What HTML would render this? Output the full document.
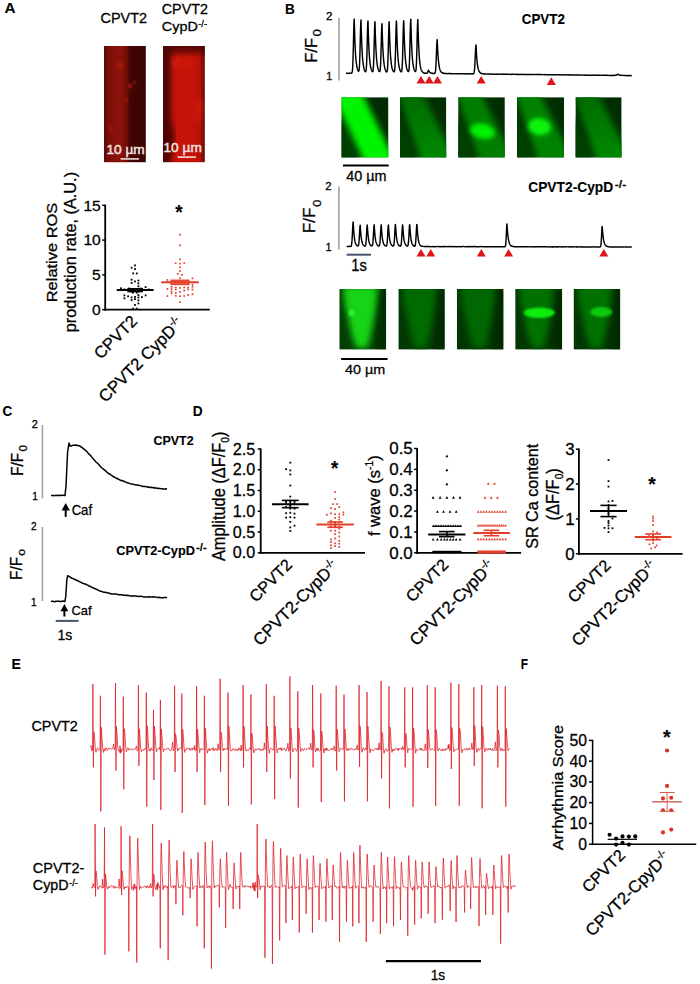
<!DOCTYPE html>
<html><head><meta charset="utf-8"><style>
html,body{margin:0;padding:0;background:#fff;}
svg{display:block;}
text{font-family:"Liberation Sans", sans-serif;}
</style></head><body>
<svg width="700" height="984" viewBox="0 0 700 984">
<rect width="700" height="984" fill="#fff"/>
<text stroke="#000" stroke-width="0.12" x="4.44" y="13.40" font-size="14.43" font-weight="bold" fill="#000" textLength="11.01" lengthAdjust="spacingAndGlyphs">A</text>
<text stroke="#000" stroke-width="0.12" x="285.02" y="13.60" font-size="14.43" font-weight="bold" fill="#000" textLength="9.78" lengthAdjust="spacingAndGlyphs">B</text>
<text stroke="#000" stroke-width="0.12" x="2.62" y="416.00" font-size="15.14" font-weight="bold" fill="#000" textLength="9.78" lengthAdjust="spacingAndGlyphs">C</text>
<text stroke="#000" stroke-width="0.12" x="192.72" y="415.60" font-size="14.86" font-weight="bold" fill="#000" textLength="9.89" lengthAdjust="spacingAndGlyphs">D</text>
<text stroke="#000" stroke-width="0.12" x="11.50" y="669.20" font-size="14.14" font-weight="bold" fill="#000" textLength="9.34" lengthAdjust="spacingAndGlyphs">E</text>
<text stroke="#000" stroke-width="0.12" x="520.71" y="669.30" font-size="14.86" font-weight="bold" fill="#000" textLength="7.22" lengthAdjust="spacingAndGlyphs">F</text>
<text stroke="#000" stroke-width="0.28" x="100.48" y="22.50" font-size="14.29" fill="#000" textLength="46.56" lengthAdjust="spacingAndGlyphs">CPVT2</text>
<text stroke="#000" stroke-width="0.28" x="161.78" y="14.00" font-size="14.29" fill="#000" textLength="46.15" lengthAdjust="spacingAndGlyphs">CPVT2</text>
<text stroke="#000" stroke-width="0.28" x="161.78" y="31.29" font-size="13.56" fill="#000" textLength="36.05" lengthAdjust="spacingAndGlyphs">CypD</text>
<text stroke="#000" stroke-width="0.28" x="198.24" y="27.40" font-size="8.80" fill="#000" textLength="8.78" lengthAdjust="spacingAndGlyphs">-/-</text>
<defs>
<linearGradient id="rA1" x1="0" y1="0" x2="1" y2="0">
<stop offset="0" stop-color="#5c0a05"/><stop offset="0.1" stop-color="#780e06"/>
<stop offset="0.4" stop-color="#881208"/><stop offset="0.55" stop-color="#6c0c05"/>
<stop offset="0.63" stop-color="#420503"/><stop offset="1" stop-color="#3a0403"/>
</linearGradient>
<linearGradient id="rA2" x1="0" y1="0" x2="1" y2="0">
<stop offset="0" stop-color="#4e0603"/><stop offset="0.12" stop-color="#5a0704"/>
<stop offset="0.24" stop-color="#a81108"/><stop offset="0.32" stop-color="#c41408"/><stop offset="0.6" stop-color="#c81408"/>
<stop offset="0.88" stop-color="#b81208"/><stop offset="1" stop-color="#600905"/>
</linearGradient>
<linearGradient id="rA2v" x1="0" y1="0" x2="0" y2="1">
<stop offset="0" stop-color="#4a0603" stop-opacity="0.95"/><stop offset="0.05" stop-color="#4a0603" stop-opacity="0.6"/><stop offset="0.1" stop-color="#4a0603" stop-opacity="0"/>
<stop offset="1" stop-color="#4a0603" stop-opacity="0"/>
</linearGradient>
<filter id="blur1"><feGaussianBlur stdDeviation="1.2"/></filter>
<filter id="blur2"><feGaussianBlur stdDeviation="2.5"/></filter>
<filter id="blur3"><feGaussianBlur stdDeviation="4"/></filter>
</defs>
<rect x="104.00" y="46.00" width="41.80" height="116.20" fill="url(#rA1)"/>
<rect x="163.00" y="46.00" width="41.80" height="116.20" fill="url(#rA2)"/>
<rect x="163.00" y="46.00" width="41.80" height="116.20" fill="url(#rA2v)"/>
<clipPath id="cr1"><rect x="104" y="46" width="41.8" height="116.2"/></clipPath><clipPath id="cr2"><rect x="163" y="46" width="41.8" height="116.2"/></clipPath>
<g clip-path="url(#cr1)">
<rect x="110" y="40" width="16" height="130" fill="#901208" opacity="0.35" filter="url(#blur3)"/>
<circle cx="120" cy="65.4" r="3.5" fill="#c0200e" opacity="0.5" filter="url(#blur1)"/>
<circle cx="130" cy="86.1" r="2.2" fill="#c0200e" opacity="0.85" filter="url(#blur1)"/>
<circle cx="134.4" cy="82.6" r="1.8" fill="#c0200e" opacity="0.5" filter="url(#blur1)"/>
<circle cx="110.5" cy="128" r="2.0" fill="#c0200e" opacity="0.5" filter="url(#blur1)"/>
<circle cx="112.5" cy="134" r="1.6" fill="#c0200e" opacity="0.45" filter="url(#blur1)"/>
<circle cx="126" cy="100" r="2.5" fill="#c0200e" opacity="0.35" filter="url(#blur1)"/>
</g>
<g clip-path="url(#cr2)">
<ellipse cx="167" cy="138" rx="7" ry="16" fill="#4a0603" opacity="0.85" filter="url(#blur3)"/>
<ellipse cx="176" cy="63" rx="5" ry="5" fill="#d41c0c" opacity="0.7" filter="url(#blur2)"/>
<ellipse cx="189" cy="64" rx="5" ry="6" fill="#d41c0c" opacity="0.6" filter="url(#blur2)"/>
<ellipse cx="198" cy="110" rx="5" ry="14" fill="#d01a0c" opacity="0.6" filter="url(#blur2)"/>
</g>
<text stroke="#f6e4e0" stroke-width="0.45" x="106.42" y="153.87" font-size="13.67" fill="#f6e4e0" textLength="38.27" lengthAdjust="spacingAndGlyphs">10 µm</text>
<line x1="120.50" y1="158.90" x2="138.90" y2="158.90" stroke="#f2dcd8" stroke-width="1.6"/>
<text stroke="#f6e4e0" stroke-width="0.45" x="163.52" y="152.07" font-size="13.67" fill="#f6e4e0" textLength="38.27" lengthAdjust="spacingAndGlyphs">10 µm</text>
<line x1="177.60" y1="157.10" x2="196.00" y2="157.10" stroke="#f2dcd8" stroke-width="1.6"/>
<line x1="105.20" y1="204.70" x2="105.20" y2="310.60" stroke="#000" stroke-width="1.8"/>
<line x1="104.30" y1="309.70" x2="209.80" y2="309.70" stroke="#000" stroke-width="1.8"/>
<line x1="102.20" y1="309.70" x2="105.20" y2="309.70" stroke="#000" stroke-width="1.5"/>
<line x1="102.20" y1="274.90" x2="105.20" y2="274.90" stroke="#000" stroke-width="1.5"/>
<line x1="102.20" y1="240.10" x2="105.20" y2="240.10" stroke="#000" stroke-width="1.5"/>
<line x1="102.20" y1="205.30" x2="105.20" y2="205.30" stroke="#000" stroke-width="1.5"/>
<text stroke="#000" stroke-width="0.28" x="100.78" y="315.00" font-size="15.14" text-anchor="end" fill="#000" textLength="8.68" lengthAdjust="spacingAndGlyphs">0</text>
<text stroke="#000" stroke-width="0.28" x="100.78" y="280.20" font-size="15.14" text-anchor="end" fill="#000" textLength="8.68" lengthAdjust="spacingAndGlyphs">5</text>
<text stroke="#000" stroke-width="0.28" x="100.78" y="245.40" font-size="15.14" text-anchor="end" fill="#000" textLength="17.35" lengthAdjust="spacingAndGlyphs">10</text>
<text stroke="#000" stroke-width="0.28" x="100.78" y="210.60" font-size="15.14" text-anchor="end" fill="#000" textLength="17.35" lengthAdjust="spacingAndGlyphs">15</text>
<text stroke="#000" stroke-width="0.28" x="56.90" y="302.24" font-size="15.47" fill="#000" transform="rotate(-90 56.90 302.24)" textLength="99.49" lengthAdjust="spacingAndGlyphs">Relative ROS</text>
<text stroke="#000" stroke-width="0.28" x="76.46" y="332.21" font-size="16.21" fill="#000" transform="rotate(-90 76.46 332.21)" textLength="160.28" lengthAdjust="spacingAndGlyphs">production rate, (A.U.)</text>
<rect x="134.10" y="264.50" width="1.80" height="1.80" fill="#000"/>
<rect x="130.70" y="266.80" width="1.80" height="1.80" fill="#000"/>
<rect x="134.10" y="268.20" width="1.80" height="1.80" fill="#000"/>
<rect x="132.30" y="272.50" width="1.80" height="1.80" fill="#000"/>
<rect x="135.90" y="272.50" width="1.80" height="1.80" fill="#000"/>
<rect x="130.70" y="278.80" width="1.80" height="1.80" fill="#000"/>
<rect x="130.70" y="282.00" width="1.80" height="1.80" fill="#000"/>
<rect x="134.10" y="280.50" width="1.80" height="1.80" fill="#000"/>
<rect x="137.50" y="279.70" width="1.80" height="1.80" fill="#000"/>
<rect x="137.50" y="282.50" width="1.80" height="1.80" fill="#000"/>
<rect x="137.50" y="285.40" width="1.80" height="1.80" fill="#000"/>
<rect x="144.70" y="286.20" width="1.80" height="1.80" fill="#000"/>
<rect x="120.10" y="287.40" width="1.80" height="1.80" fill="#000"/>
<rect x="123.50" y="288.50" width="1.80" height="1.80" fill="#000"/>
<rect x="148.10" y="288.50" width="1.80" height="1.80" fill="#000"/>
<rect x="132.10" y="291.70" width="1.80" height="1.80" fill="#000"/>
<rect x="135.80" y="291.70" width="1.80" height="1.80" fill="#000"/>
<rect x="123.50" y="294.50" width="1.80" height="1.80" fill="#000"/>
<rect x="123.50" y="297.40" width="1.80" height="1.80" fill="#000"/>
<rect x="127.20" y="295.40" width="1.80" height="1.80" fill="#000"/>
<rect x="130.70" y="296.50" width="1.80" height="1.80" fill="#000"/>
<rect x="130.70" y="299.10" width="1.80" height="1.80" fill="#000"/>
<rect x="134.10" y="296.00" width="1.80" height="1.80" fill="#000"/>
<rect x="134.10" y="298.20" width="1.80" height="1.80" fill="#000"/>
<rect x="137.50" y="294.20" width="1.80" height="1.80" fill="#000"/>
<rect x="137.50" y="296.50" width="1.80" height="1.80" fill="#000"/>
<rect x="137.50" y="299.40" width="1.80" height="1.80" fill="#000"/>
<rect x="141.00" y="296.20" width="1.80" height="1.80" fill="#000"/>
<rect x="144.70" y="294.50" width="1.80" height="1.80" fill="#000"/>
<rect x="134.10" y="304.00" width="1.80" height="1.80" fill="#000"/>
<rect x="137.50" y="302.50" width="1.80" height="1.80" fill="#000"/>
<rect x="132.30" y="307.70" width="1.80" height="1.80" fill="#000"/>
<rect x="135.90" y="307.70" width="1.80" height="1.80" fill="#000"/>
<rect x="128.10" y="287.60" width="1.80" height="1.80" fill="#000"/>
<rect x="140.10" y="287.60" width="1.80" height="1.80" fill="#000"/>
<rect x="130.10" y="290.60" width="1.80" height="1.80" fill="#000"/>
<rect x="138.10" y="290.60" width="1.80" height="1.80" fill="#000"/>
<rect x="127.30" y="288.00" width="15.70" height="4.30" fill="#000"/>
<line x1="116.70" y1="290.00" x2="153.60" y2="290.00" stroke="#000" stroke-width="2.0"/>
<rect x="179.15" y="233.85" width="1.70" height="1.70" fill="#e23e2a"/>
<rect x="179.15" y="244.45" width="1.70" height="1.70" fill="#e23e2a"/>
<rect x="179.15" y="258.45" width="1.70" height="1.70" fill="#e23e2a"/>
<rect x="174.75" y="262.45" width="1.70" height="1.70" fill="#e23e2a"/>
<rect x="179.15" y="262.85" width="1.70" height="1.70" fill="#e23e2a"/>
<rect x="183.35" y="262.05" width="1.70" height="1.70" fill="#e23e2a"/>
<rect x="179.15" y="266.45" width="1.70" height="1.70" fill="#e23e2a"/>
<rect x="179.15" y="270.15" width="1.70" height="1.70" fill="#e23e2a"/>
<rect x="176.95" y="272.95" width="1.70" height="1.70" fill="#e23e2a"/>
<rect x="181.15" y="274.05" width="1.70" height="1.70" fill="#e23e2a"/>
<rect x="179.15" y="277.25" width="1.70" height="1.70" fill="#e23e2a"/>
<rect x="191.65" y="277.55" width="1.70" height="1.70" fill="#e23e2a"/>
<rect x="166.55" y="279.15" width="1.70" height="1.70" fill="#e23e2a"/>
<rect x="166.55" y="288.05" width="1.70" height="1.70" fill="#e23e2a"/>
<rect x="166.55" y="295.15" width="1.70" height="1.70" fill="#e23e2a"/>
<rect x="170.65" y="285.85" width="1.70" height="1.70" fill="#e23e2a"/>
<rect x="170.65" y="288.15" width="1.70" height="1.70" fill="#e23e2a"/>
<rect x="170.65" y="290.55" width="1.70" height="1.70" fill="#e23e2a"/>
<rect x="170.65" y="292.55" width="1.70" height="1.70" fill="#e23e2a"/>
<rect x="174.95" y="286.65" width="1.70" height="1.70" fill="#e23e2a"/>
<rect x="174.95" y="288.65" width="1.70" height="1.70" fill="#e23e2a"/>
<rect x="174.95" y="292.15" width="1.70" height="1.70" fill="#e23e2a"/>
<rect x="174.95" y="294.95" width="1.70" height="1.70" fill="#e23e2a"/>
<rect x="179.15" y="287.05" width="1.70" height="1.70" fill="#e23e2a"/>
<rect x="179.15" y="290.95" width="1.70" height="1.70" fill="#e23e2a"/>
<rect x="179.15" y="295.35" width="1.70" height="1.70" fill="#e23e2a"/>
<rect x="179.15" y="301.25" width="1.70" height="1.70" fill="#e23e2a"/>
<rect x="183.35" y="286.65" width="1.70" height="1.70" fill="#e23e2a"/>
<rect x="183.35" y="289.75" width="1.70" height="1.70" fill="#e23e2a"/>
<rect x="183.35" y="295.15" width="1.70" height="1.70" fill="#e23e2a"/>
<rect x="187.25" y="286.65" width="1.70" height="1.70" fill="#e23e2a"/>
<rect x="187.25" y="288.65" width="1.70" height="1.70" fill="#e23e2a"/>
<rect x="187.25" y="294.15" width="1.70" height="1.70" fill="#e23e2a"/>
<rect x="191.65" y="283.85" width="1.70" height="1.70" fill="#e23e2a"/>
<rect x="191.65" y="285.85" width="1.70" height="1.70" fill="#e23e2a"/>
<rect x="191.65" y="288.65" width="1.70" height="1.70" fill="#e23e2a"/>
<rect x="191.65" y="293.35" width="1.70" height="1.70" fill="#e23e2a"/>
<rect x="171.10" y="280.20" width="17.80" height="4.30" fill="#f07060"/>
<rect x="171.10" y="280.20" width="17.80" height="4.30" fill="none" stroke="#e23e2a" stroke-width="1.3"/>
<line x1="161.20" y1="282.30" x2="198.80" y2="282.30" stroke="#e23e2a" stroke-width="2.0"/>
<text stroke="#000" stroke-width="0.12" x="175.20" y="219.10" font-size="20.86" font-weight="bold" fill="#000" textLength="7.41" lengthAdjust="spacingAndGlyphs">*</text>
<text stroke="#000" stroke-width="0.28" x="100.69" y="359.90" font-size="16.53" fill="#000" transform="rotate(-45 100.69 359.90)">CPVT2</text>
<text stroke="#000" stroke-width="0.28" x="105.58" y="403.22" font-size="16.88" fill="#000" transform="rotate(-45 105.58 403.22)">CPVT2 CypD<tspan font-size="62%" dy="-0.62em">-/-</tspan></text>
<line x1="339.00" y1="18.00" x2="339.00" y2="80.60" stroke="#a6a6a6" stroke-width="1.7"/>
<text stroke="#000" stroke-width="0.28" x="325.92" y="19.70" font-size="10.71" fill="#000" textLength="6.43" lengthAdjust="spacingAndGlyphs">2</text>
<text stroke="#000" stroke-width="0.28" x="326.37" y="80.30" font-size="10.71" fill="#000" textLength="5.93" lengthAdjust="spacingAndGlyphs">1</text>
<text stroke="#000" stroke-width="0.28" x="316.60" y="62.64" font-size="16.67" fill="#000" transform="rotate(-90 316.60 62.64)" textLength="24.67" lengthAdjust="spacingAndGlyphs">F/F</text>
<text stroke="#000" stroke-width="0.28" x="321.20" y="36.57" font-size="11.71" fill="#000" transform="rotate(-90 321.20 36.57)" textLength="7.42" lengthAdjust="spacingAndGlyphs">0</text>
<path d="M346.00 73.29 L346.20 73.29 L346.40 73.29 L346.60 73.31 L346.80 73.31 L347.00 73.40 L347.20 73.40 L347.40 73.40 L347.60 73.29 L347.80 73.29 L348.00 73.30 L348.20 73.30 L348.40 73.30 L348.60 73.32 L348.80 73.32 L349.00 73.22 L349.20 73.22 L349.40 73.22 L349.60 73.30 L349.80 73.30 L350.00 73.33 L350.20 73.33 L350.40 73.33 L350.60 73.37 L350.80 73.37 L351.00 73.20 L351.20 73.20 L351.40 73.16 L351.60 73.15 L351.80 72.99 L352.00 72.60 L352.20 71.90 L352.40 70.60 L352.60 68.53 L352.80 64.97 L353.00 59.76 L353.20 52.89 L353.40 44.67 L353.60 35.75 L353.80 27.67 L354.00 21.86 L354.20 19.04 L354.40 25.08 L354.60 32.22 L354.80 38.31 L355.00 43.43 L355.20 47.85 L355.40 51.62 L355.60 54.82 L355.80 57.56 L356.00 59.78 L356.20 61.77 L356.40 63.46 L356.60 64.87 L356.80 66.10 L357.00 67.27 L357.20 68.16 L357.40 68.92 L357.60 69.46 L357.80 70.01 L358.00 70.51 L358.20 70.86 L358.40 71.13 L358.60 71.24 L358.80 71.09 L359.00 70.45 L359.20 69.17 L359.40 66.86 L359.60 63.25 L359.80 57.91 L360.00 50.95 L360.20 42.81 L360.40 34.40 L360.60 27.07 L360.80 21.94 L361.00 20.06 L361.20 27.93 L361.40 34.64 L361.60 40.39 L361.80 45.26 L362.00 49.37 L362.20 52.91 L362.40 55.93 L362.60 58.53 L362.80 60.72 L363.00 62.54 L363.20 64.13 L363.40 65.48 L363.60 66.59 L363.80 67.58 L364.00 68.59 L364.20 69.30 L364.40 69.91 L364.60 70.43 L364.80 70.87 L365.00 71.21 L365.20 71.48 L365.40 71.68 L365.60 71.70 L365.80 71.50 L366.00 70.79 L366.20 69.50 L366.40 67.19 L366.60 63.51 L366.80 58.24 L367.00 51.39 L367.20 43.38 L367.40 35.10 L367.60 27.73 L367.80 22.69 L368.00 21.07 L368.20 28.80 L368.40 35.39 L368.60 40.92 L368.80 45.70 L369.00 49.88 L369.20 53.36 L369.40 56.32 L369.60 58.73 L369.80 60.88 L370.00 62.85 L370.20 64.41 L370.40 65.74 L370.60 66.85 L370.80 67.82 L371.00 68.44 L371.20 69.14 L371.40 69.74 L371.60 70.29 L371.80 70.73 L372.00 71.27 L372.20 71.53 L372.40 71.72 L372.60 71.67 L372.80 71.47 L373.00 70.99 L373.20 69.71 L373.40 67.43 L373.60 63.66 L373.80 58.45 L374.00 51.59 L374.20 43.67 L374.40 35.49 L374.60 28.39 L374.80 23.40 L375.00 21.67 L375.20 29.32 L375.40 35.83 L375.60 41.26 L375.80 45.99 L376.00 49.97 L376.20 53.41 L376.40 56.33 L376.60 58.89 L376.80 61.01 L377.00 62.97 L377.20 64.52 L377.40 65.83 L377.60 66.90 L377.80 67.86 L378.00 68.52 L378.20 69.21 L378.40 69.80 L378.60 70.34 L378.80 70.77 L379.00 71.10 L379.20 71.36 L379.40 71.55 L379.60 71.60 L379.80 71.41 L380.00 71.01 L380.20 69.79 L380.40 67.61 L380.60 63.99 L380.80 58.99 L381.00 52.58 L381.20 44.98 L381.40 37.13 L381.60 30.17 L381.80 25.39 L382.00 23.63 L382.20 30.97 L382.40 37.22 L382.60 42.67 L382.80 47.21 L383.00 50.93 L383.20 54.22 L383.40 57.03 L383.60 59.55 L383.80 61.58 L384.00 63.20 L384.20 64.68 L384.40 65.94 L384.60 67.09 L384.80 68.00 L385.00 68.73 L385.20 69.40 L385.40 69.96 L385.60 70.46 L385.80 70.87 L386.00 71.39 L386.20 71.69 L386.40 71.90 L386.60 72.00 L386.80 72.00 L387.00 71.65 L387.20 71.01 L387.40 69.70 L387.60 67.54 L387.80 63.89 L388.00 58.50 L388.20 51.71 L388.40 43.78 L388.60 35.63 L388.80 28.39 L389.00 23.50 L389.20 21.73 L389.40 29.37 L389.60 35.82 L389.80 41.37 L390.00 45.97 L390.20 49.99 L390.40 53.43 L390.60 56.56 L390.80 59.06 L391.00 60.99 L391.20 62.80 L391.40 64.34 L391.60 65.67 L391.80 66.79 L392.00 67.87 L392.20 68.68 L392.40 69.37 L392.60 69.86 L392.80 70.36 L393.00 70.78 L393.20 71.15 L393.40 71.46 L393.60 71.64 L393.80 71.81 L394.00 71.89 L394.20 71.78 L394.40 71.35 L394.60 70.51 L394.80 68.71 L395.00 65.63 L395.20 61.11 L395.40 54.95 L395.60 47.44 L395.80 39.07 L396.00 30.97 L396.20 24.57 L396.40 21.02 L396.60 24.64 L396.80 31.83 L397.00 38.08 L397.20 43.31 L397.40 47.76 L397.60 51.44 L397.80 54.67 L398.00 57.44 L398.20 59.79 L398.40 61.79 L398.60 63.57 L398.80 65.02 L399.00 66.09 L399.20 67.15 L399.40 68.04 L399.60 68.80 L399.80 69.46 L400.00 70.19 L400.20 70.67 L400.40 71.07 L400.60 71.39 L400.80 71.66 L401.00 71.74 L401.20 71.85 L401.40 71.80 L401.60 71.45 L401.80 70.64 L402.00 69.19 L402.20 66.47 L402.40 62.28 L402.60 56.46 L402.80 49.03 L403.00 40.43 L403.20 32.02 L403.40 24.95 L403.60 20.69 L403.80 21.76 L404.00 29.38 L404.20 35.88 L404.40 41.43 L404.60 46.09 L404.80 50.12 L405.00 53.50 L405.20 56.43 L405.40 58.92 L405.60 60.97 L405.80 62.78 L406.00 64.30 L406.20 65.62 L406.40 66.74 L406.60 67.91 L406.80 68.73 L407.00 69.24 L407.20 69.83 L407.40 70.34 L407.60 70.88 L407.80 71.24 L408.00 71.40 L408.20 71.58 L408.40 71.62 L408.60 71.54 L408.80 70.89 L409.00 69.48 L409.20 67.08 L409.40 63.27 L409.60 57.72 L409.80 50.60 L410.00 42.26 L410.20 33.67 L410.40 26.07 L410.60 20.97 L410.80 19.11 L411.00 26.98 L411.20 33.81 L411.40 39.63 L411.60 44.63 L411.80 48.86 L412.00 52.55 L412.20 55.62 L412.40 58.23 L412.60 60.53 L412.80 62.43 L413.00 64.00 L413.20 65.38 L413.40 66.55 L413.60 67.47 L413.80 68.33 L414.00 69.21 L414.20 69.83 L414.40 70.36 L414.60 70.63 L414.80 71.02 L415.00 71.26 L415.20 71.47 L415.40 71.56 L415.60 71.48 L415.80 70.97 L416.00 69.88 L416.20 67.80 L416.40 64.40 L416.60 59.31 L416.80 52.63 L417.00 44.64 L417.20 36.08 L417.40 28.18 L417.60 22.33 L417.80 19.59 L418.00 25.61 L418.20 32.66 L418.40 38.67 L418.60 43.69 L418.80 48.05 L419.00 51.83 L419.20 55.00 L419.40 57.70 L419.60 60.13 L419.80 62.09 L420.00 63.78 L420.20 65.21 L420.40 66.43 L420.60 67.38 L420.80 68.27 L421.00 69.03 L421.20 69.67 L421.40 70.22 L421.60 70.66 L421.80 71.06 L422.00 71.29 L422.20 71.58 L422.40 71.83 L422.60 72.01 L422.80 72.19 L423.00 72.34 L423.20 72.47 L423.40 72.59 L423.60 72.90 L423.80 72.98 L424.00 73.00 L424.20 73.06 L424.40 73.11 L424.60 73.22 L424.80 73.26 L425.00 73.06 L425.20 73.09 L425.40 73.12 L425.60 73.28 L425.80 73.30 L426.00 73.28 L426.20 73.30 L426.40 73.30 L426.60 73.37 L426.80 73.35 L427.00 73.21 L427.20 73.09 L427.40 72.88 L427.60 72.68 L427.80 72.17 L428.00 71.33 L428.20 70.71 L428.40 70.25 L428.60 70.19 L428.80 70.69 L429.00 71.15 L429.20 71.51 L429.40 71.81 L429.60 72.11 L429.80 72.32 L430.00 72.47 L430.20 72.62 L430.40 72.75 L430.60 72.86 L430.80 72.95 L431.00 73.06 L431.20 73.12 L431.40 73.18 L431.60 73.26 L431.80 73.30 L432.00 73.21 L432.20 73.24 L432.40 73.26 L432.60 73.37 L432.80 73.39 L433.00 73.46 L433.20 73.47 L433.40 73.48 L433.60 73.49 L433.80 73.50 L434.00 73.40 L434.20 73.40 L434.40 73.38 L434.60 73.42 L434.80 73.31 L435.00 73.08 L435.20 72.57 L435.40 71.64 L435.60 69.99 L435.80 67.54 L436.00 64.07 L436.20 59.56 L436.40 54.31 L436.60 48.83 L436.80 44.04 L437.00 40.79 L437.20 39.60 L437.40 44.44 L437.60 48.59 L437.80 52.15 L438.00 55.07 L438.20 57.69 L438.40 59.93 L438.60 61.99 L438.80 63.64 L439.00 65.13 L439.20 66.35 L439.40 67.39 L439.60 68.25 L439.80 69.02 L440.00 69.64 L440.20 70.20 L440.40 70.68 L440.60 71.02 L440.80 71.37 L441.00 71.76 L441.20 72.02 L441.40 72.25 L441.60 72.40 L441.80 72.57 L442.00 72.68 L442.20 72.80 L442.40 72.91 L442.60 73.09 L442.80 73.17 L443.00 73.06 L443.20 73.12 L443.40 73.17 L443.60 73.37 L443.80 73.41 L444.00 73.27 L444.20 73.29 L444.40 73.32 L444.60 73.48 L444.80 73.50 L445.00 73.48 L445.20 73.50 L445.40 73.51 L445.60 73.46 L445.80 73.47 L446.00 73.59 L446.20 73.60 L446.40 73.61 L446.60 73.56 L446.80 73.57 L447.00 73.60 L447.20 73.61 L447.40 73.61 L447.60 73.69 L447.80 73.69 L448.00 73.54 L448.20 73.54 L448.40 73.54 L448.60 73.49 L448.80 73.49 L449.00 73.56 L449.20 73.57 L449.40 73.57 L449.60 73.66 L449.80 73.66 L450.00 73.55 L450.20 73.55 L450.40 73.56 L450.60 73.55 L450.80 73.55 L451.00 73.73 L451.20 73.74 L451.40 73.74 L451.60 73.68 L451.80 73.68 L452.00 73.63 L452.20 73.64 L452.40 73.64 L452.60 73.75 L452.80 73.75 L453.00 73.62 L453.20 73.62 L453.40 73.62 L453.60 73.70 L453.80 73.71 L454.00 73.60 L454.20 73.60 L454.40 73.60 L454.60 73.66 L454.80 73.66 L455.00 73.75 L455.20 73.76 L455.40 73.76 L455.60 73.79 L455.80 73.79 L456.00 73.78 L456.20 73.78 L456.40 73.79 L456.60 73.67 L456.80 73.67 L457.00 73.72 L457.20 73.72 L457.40 73.73 L457.60 73.66 L457.80 73.67 L458.00 73.62 L458.20 73.63 L458.40 73.63 L458.60 73.72 L458.80 73.72 L459.00 73.80 L459.20 73.81 L459.40 73.81 L459.60 73.81 L459.80 73.82 L460.00 73.78 L460.20 73.79 L460.40 73.79 L460.60 73.85 L460.80 73.85 L461.00 73.69 L461.20 73.69 L461.40 73.70 L461.60 73.67 L461.80 73.67 L462.00 73.74 L462.20 73.75 L462.40 73.75 L462.60 73.71 L462.80 73.71 L463.00 73.70 L463.20 73.70 L463.40 73.70 L463.60 73.75 L463.80 73.75 L464.00 73.81 L464.20 73.81 L464.40 73.81 L464.60 73.78 L464.80 73.78 L465.00 73.74 L465.20 73.75 L465.40 73.75 L465.60 73.88 L465.80 73.88 L466.00 73.91 L466.20 73.92 L466.40 73.92 L466.60 73.79 L466.80 73.80 L467.00 73.71 L467.20 73.71 L467.40 73.71 L467.60 73.70 L467.80 73.71 L468.00 73.91 L468.20 73.91 L468.40 73.91 L468.60 73.72 L468.80 73.72 L469.00 73.88 L469.20 73.88 L469.40 73.89 L469.60 73.86 L469.80 73.86 L470.00 73.80 L470.20 73.80 L470.40 73.80 L470.60 73.92 L470.80 73.92 L471.00 73.74 L471.20 73.74 L471.40 73.74 L471.60 73.77 L471.80 73.77 L472.00 73.85 L472.20 73.86 L472.40 73.86 L472.60 73.76 L472.80 73.76 L473.00 73.95 L473.20 73.93 L473.40 73.89 L473.60 73.65 L473.80 73.43 L474.00 72.97 L474.20 72.18 L474.40 70.83 L474.60 68.72 L474.80 65.75 L475.00 62.05 L475.20 57.57 L475.40 52.95 L475.60 48.82 L475.80 46.00 L476.00 45.04 L476.20 49.16 L476.40 52.70 L476.60 55.74 L476.80 58.33 L477.00 60.60 L477.20 62.51 L477.40 64.15 L477.60 65.59 L477.80 66.80 L478.00 67.77 L478.20 68.66 L478.40 69.42 L478.60 69.95 L478.80 70.51 L479.00 71.06 L479.20 71.47 L479.40 71.82 L479.60 72.06 L479.80 72.32 L480.00 72.50 L480.20 72.69 L480.40 72.86 L480.60 73.11 L480.80 73.23 L481.00 73.40 L481.20 73.49 L481.40 73.56 L481.60 73.50 L481.80 73.56 L482.00 73.63 L482.20 73.67 L482.40 73.71 L482.60 73.76 L482.80 73.79 L483.00 73.90 L483.20 73.92 L483.40 73.94 L483.60 73.91 L483.80 73.93 L484.00 73.96 L484.20 73.97 L484.40 73.98 L484.60 74.02 L484.80 74.03 L485.00 73.95 L485.20 73.96 L485.40 73.96 L485.60 74.06 L485.80 74.07 L486.00 74.10 L486.20 74.10 L486.40 74.11 L486.60 73.92 L486.80 73.92 L487.00 74.12 L487.20 74.13 L487.40 74.13 L487.60 74.08 L487.80 74.09 L488.00 73.95 L488.20 73.95 L488.40 73.95 L488.60 74.03 L488.80 74.03 L489.00 74.08 L489.20 74.08 L489.40 74.08 L489.60 74.15 L489.80 74.15 L490.00 74.03 L490.20 74.03 L490.40 74.03 L490.60 74.08 L490.80 74.08 L491.00 74.16 L491.20 74.16 L491.40 74.17 L491.60 74.15 L491.80 74.15 L492.00 74.19 L492.20 74.19 L492.40 74.19 L492.60 74.08 L492.80 74.08 L493.00 74.13 L493.20 74.13 L493.40 74.13 L493.60 74.03 L493.80 74.03 L494.00 74.16 L494.20 74.16 L494.40 74.16 L494.60 74.19 L494.80 74.19 L495.00 74.15 L495.20 74.15 L495.40 74.15 L495.60 74.17 L495.80 74.17 L496.00 74.06 L496.20 74.06 L496.40 74.06 L496.60 74.23 L496.80 74.23 L497.00 74.25 L497.20 74.25 L497.40 74.26 L497.60 74.26 L497.80 74.26 L498.00 74.16 L498.20 74.16 L498.40 74.16 L498.60 74.22 L498.80 74.22 L499.00 74.11 L499.20 74.12 L499.40 74.12 L499.60 74.26 L499.80 74.26 L500.00 74.25 L500.20 74.26 L500.40 74.26 L500.60 74.14 L500.80 74.14 L501.00 74.08 L501.20 74.08 L501.40 74.08 L501.60 74.17 L501.80 74.17 L502.00 74.20 L502.20 74.20 L502.40 74.21 L502.60 74.26 L502.80 74.26 L503.00 74.20 L503.20 74.20 L503.40 74.20 L503.60 74.09 L503.80 74.10 L504.00 74.29 L504.20 74.29 L504.40 74.29 L504.60 74.11 L504.80 74.12 L505.00 74.29 L505.20 74.30 L505.40 74.30 L505.60 74.15 L505.80 74.15 L506.00 74.19 L506.20 74.20 L506.40 74.20 L506.60 74.31 L506.80 74.31 L507.00 74.16 L507.20 74.16 L507.40 74.16 L507.60 74.17 L507.80 74.17 L508.00 74.26 L508.20 74.26 L508.40 74.26 L508.60 74.31 L508.80 74.32 L509.00 74.35 L509.20 74.35 L509.40 74.35 L509.60 74.32 L509.80 74.32 L510.00 74.38 L510.20 74.39 L510.40 74.39 L510.60 74.28 L510.80 74.28 L511.00 74.40 L511.20 74.40 L511.40 74.40 L511.60 74.19 L511.80 74.20 L512.00 74.23 L512.20 74.23 L512.40 74.24 L512.60 74.31 L512.80 74.31 L513.00 74.26 L513.20 74.26 L513.40 74.26 L513.60 74.37 L513.80 74.37 L514.00 74.35 L514.20 74.36 L514.40 74.36 L514.60 74.33 L514.80 74.33 L515.00 74.41 L515.20 74.42 L515.40 74.42 L515.60 74.35 L515.80 74.35 L516.00 74.30 L516.20 74.30 L516.40 74.30 L516.60 74.32 L516.80 74.32 L517.00 74.44 L517.20 74.44 L517.40 74.44 L517.60 74.45 L517.80 74.46 L518.00 74.29 L518.20 74.30 L518.40 74.30 L518.60 74.45 L518.80 74.46 L519.00 74.49 L519.20 74.49 L519.40 74.49 L519.60 74.39 L519.80 74.39 L520.00 74.40 L520.20 74.40 L520.40 74.41 L520.60 74.32 L520.80 74.32 L521.00 74.40 L521.20 74.41 L521.40 74.41 L521.60 74.40 L521.80 74.41 L522.00 74.43 L522.20 74.43 L522.40 74.44 L522.60 74.30 L522.80 74.30 L523.00 74.53 L523.20 74.53 L523.40 74.53 L523.60 74.43 L523.80 74.43 L524.00 74.40 L524.20 74.41 L524.40 74.41 L524.60 74.51 L524.80 74.51 L525.00 74.45 L525.20 74.46 L525.40 74.46 L525.60 74.44 L525.80 74.45 L526.00 74.50 L526.20 74.50 L526.40 74.50 L526.60 74.35 L526.80 74.35 L527.00 74.47 L527.20 74.47 L527.40 74.47 L527.60 74.45 L527.80 74.45 L528.00 74.58 L528.20 74.58 L528.40 74.59 L528.60 74.58 L528.80 74.58 L529.00 74.43 L529.20 74.43 L529.40 74.43 L529.60 74.48 L529.80 74.48 L530.00 74.40 L530.20 74.41 L530.40 74.41 L530.60 74.48 L530.80 74.49 L531.00 74.58 L531.20 74.58 L531.40 74.58 L531.60 74.61 L531.80 74.61 L532.00 74.51 L532.20 74.51 L532.40 74.51 L532.60 74.48 L532.80 74.48 L533.00 74.45 L533.20 74.45 L533.40 74.46 L533.60 74.56 L533.80 74.56 L534.00 74.64 L534.20 74.64 L534.40 74.64 L534.60 74.45 L534.80 74.46 L535.00 74.61 L535.20 74.62 L535.40 74.62 L535.60 74.44 L535.80 74.44 L536.00 74.49 L536.20 74.49 L536.40 74.49 L536.60 74.50 L536.80 74.50 L537.00 74.61 L537.20 74.62 L537.40 74.62 L537.60 74.53 L537.80 74.54 L538.00 74.55 L538.20 74.55 L538.40 74.55 L538.60 74.62 L538.80 74.62 L539.00 74.50 L539.20 74.50 L539.40 74.50 L539.60 74.65 L539.80 74.66 L540.00 74.51 L540.20 74.51 L540.40 74.52 L540.60 74.61 L540.80 74.61 L541.00 74.55 L541.20 74.56 L541.40 74.56 L541.60 74.55 L541.80 74.55 L542.00 74.63 L542.20 74.63 L542.40 74.64 L542.60 74.61 L542.80 74.62 L543.00 74.60 L543.20 74.61 L543.40 74.61 L543.60 74.62 L543.80 74.62 L544.00 74.65 L544.20 74.65 L544.40 74.66 L544.60 74.57 L544.80 74.57 L545.00 74.59 L545.20 74.59 L545.40 74.59 L545.60 74.69 L545.80 74.70 L546.00 74.70 L546.20 74.70 L546.40 74.70 L546.60 74.68 L546.80 74.68 L547.00 74.76 L547.20 74.76 L547.40 74.77 L547.60 74.71 L547.80 74.71 L548.00 74.77 L548.20 74.78 L548.40 74.78 L548.60 74.63 L548.80 74.63 L549.00 74.76 L549.20 74.76 L549.40 74.76 L549.60 74.78 L549.80 74.78 L550.00 74.81 L550.20 74.81 L550.40 74.81 L550.60 74.67 L550.80 74.67 L551.00 74.68 L551.20 74.68 L551.40 74.68 L551.60 74.83 L551.80 74.83 L552.00 74.66 L552.20 74.67 L552.40 74.67 L552.60 74.86 L552.80 74.86 L553.00 74.84 L553.20 74.84 L553.40 74.84 L553.60 74.66 L553.80 74.66 L554.00 74.69 L554.20 74.69 L554.40 74.70 L554.60 74.81 L554.80 74.82 L555.00 74.71 L555.20 74.71 L555.40 74.71 L555.60 74.67 L555.80 74.68 L556.00 74.86 L556.20 74.86 L556.40 74.86 L556.60 74.76 L556.80 74.77 L557.00 74.86 L557.20 74.86 L557.40 74.86 L557.60 74.70 L557.80 74.71 L558.00 74.77 L558.20 74.78 L558.40 74.78 L558.60 74.85 L558.80 74.85 L559.00 74.69 L559.20 74.69 L559.40 74.70 L559.60 74.74 L559.80 74.74 L560.00 74.86 L560.20 74.86 L560.40 74.87 L560.60 74.92 L560.80 74.93 L561.00 74.94 L561.20 74.94 L561.40 74.95 L561.60 74.74 L561.80 74.75 L562.00 74.84 L562.20 74.84 L562.40 74.85 L562.60 74.91 L562.80 74.91 L563.00 74.85 L563.20 74.85 L563.40 74.86 L563.60 74.90 L563.80 74.90 L564.00 74.79 L564.20 74.79 L564.40 74.79 L564.60 74.77 L564.80 74.77 L565.00 74.78 L565.20 74.78 L565.40 74.78 L565.60 74.77 L565.80 74.77 L566.00 74.90 L566.20 74.90 L566.40 74.90 L566.60 74.89 L566.80 74.90 L567.00 74.91 L567.20 74.91 L567.40 74.92 L567.60 74.82 L567.80 74.82 L568.00 74.83 L568.20 74.83 L568.40 74.83 L568.60 74.84 L568.80 74.84 L569.00 75.00 L569.20 75.00 L569.40 75.00 L569.60 75.04 L569.80 75.04 L570.00 75.03 L570.20 75.03 L570.40 75.03 L570.60 74.84 L570.80 74.84 L571.00 74.83 L571.20 74.84 L571.40 74.84 L571.60 75.05 L571.80 75.06 L572.00 74.94 L572.20 74.94 L572.40 74.94 L572.60 75.02 L572.80 75.02 L573.00 74.92 L573.20 74.92 L573.40 74.92 L573.60 74.96 L573.80 74.96 L574.00 74.97 L574.20 74.98 L574.40 74.98 L574.60 74.96 L574.80 74.96 L575.00 75.01 L575.20 75.01 L575.40 75.01 L575.60 74.87 L575.80 74.87 L576.00 75.04 L576.20 75.04 L576.40 75.05 L576.60 75.08 L576.80 75.08 L577.00 74.93 L577.20 74.93 L577.40 74.93 L577.60 75.00 L577.80 75.00 L578.00 75.07 L578.20 75.07 L578.40 75.08 L578.60 75.00 L578.80 75.00 L579.00 74.95 L579.20 74.95 L579.40 74.96 L579.60 74.95 L579.80 74.95 L580.00 75.04 L580.20 75.04 L580.40 75.04 L580.60 74.93 L580.80 74.93 L581.00 75.14 L581.20 75.14 L581.40 75.15 L581.60 75.13 L581.80 75.13 L582.00 75.11 L582.20 75.11 L582.40 75.11 L582.60 75.15 L582.80 75.15 L583.00 75.10 L583.20 75.10 L583.40 75.10 L583.60 75.05 L583.80 75.05 L584.00 75.10 L584.20 75.11 L584.40 75.11 L584.60 75.09 L584.80 75.09 L585.00 75.21 L585.20 75.21 L585.40 75.21 L585.60 75.17 L585.80 75.17 L586.00 75.04 L586.20 75.05 L586.40 75.05 L586.60 75.21 L586.80 75.21 L587.00 75.17 L587.20 75.17 L587.40 75.17 L587.60 75.19 L587.80 75.19 L588.00 75.20 L588.20 75.20 L588.40 75.20 L588.60 75.11 L588.80 75.11 L589.00 75.23 L589.20 75.23 L589.40 75.23 L589.60 75.23 L589.80 75.23 L590.00 75.19 L590.20 75.19 L590.40 75.20 L590.60 75.21 L590.80 75.22 L591.00 75.22 L591.20 75.22 L591.40 75.22 L591.60 75.14 L591.80 75.14 L592.00 75.22 L592.20 75.22 L592.40 75.22 L592.60 75.07 L592.80 75.07 L593.00 75.14 L593.20 75.14 L593.40 75.14 L593.60 75.18 L593.80 75.18 L594.00 75.07 L594.20 75.07 L594.40 75.07 L594.60 75.16 L594.80 75.16 L595.00 75.23 L595.20 75.23 L595.40 75.24 L595.60 75.23 L595.80 75.24 L596.00 75.15 L596.20 75.15 L596.40 75.15 L596.60 75.32 L596.80 75.32 L597.00 75.26 L597.20 75.26 L597.40 75.26 L597.60 75.19 L597.80 75.19 L598.00 75.27 L598.20 75.27 L598.40 75.27 L598.60 75.25 L598.80 75.26 L599.00 75.25 L599.20 75.25 L599.40 75.25 L599.60 75.22 L599.80 75.22 L600.00 75.37 L600.20 75.37 L600.40 75.38 L600.60 75.29 L600.80 75.30 L601.00 75.31 L601.20 75.31 L601.40 75.32 L601.60 75.33 L601.80 75.34 L602.00 75.39 L602.20 75.39 L602.40 75.39 L602.60 75.17 L602.80 75.17 L603.00 75.31 L603.20 75.32 L603.40 75.32 L603.60 75.35 L603.80 75.35 L604.00 75.24 L604.20 75.24 L604.40 75.24 L604.60 75.28 L604.80 75.28 L605.00 75.20 L605.20 75.20 L605.40 75.20 L605.60 75.24 L605.80 75.24 L606.00 75.29 L606.20 75.29 L606.40 75.29 L606.60 75.23 L606.80 75.23 L607.00 75.27 L607.20 75.27 L607.40 75.27 L607.60 75.43 L607.80 75.43 L608.00 75.35 L608.20 75.35 L608.40 75.36 L608.60 75.35 L608.80 75.35 L609.00 75.46 L609.20 75.46 L609.40 75.47 L609.60 75.37 L609.80 75.38 L610.00 75.48 L610.20 75.48 L610.40 75.48 L610.60 75.40 L610.80 75.40 L611.00 75.45 L611.20 75.45 L611.40 75.45 L611.60 75.28 L611.80 75.28 L612.00 75.41 L612.20 75.41 L612.40 75.41 L612.60 75.45 L612.80 75.45 L613.00 75.28 L613.20 75.29 L613.40 75.29 L613.60 75.50 L613.80 75.51 L614.00 75.32 L614.20 75.32 L614.40 75.33 L614.60 75.40 L614.80 75.40 L615.00 75.32 L615.20 75.31 L615.40 75.30 L615.60 75.35 L615.80 75.32 L616.00 75.29 L616.20 75.22 L616.40 75.12 L616.60 74.88 L616.80 74.75 L617.00 74.82 L617.20 74.67 L617.40 74.55 L617.60 74.32 L617.80 74.25 L618.00 74.25 L618.20 74.41 L618.40 74.54 L618.60 74.67 L618.80 74.78 L619.00 74.81 L619.20 74.89 L619.40 74.96 L619.60 75.00 L619.80 75.05 L620.00 75.19 L620.20 75.23 L620.40 75.27 L620.60 75.28 L620.80 75.31 L621.00 75.27 L621.20 75.29 L621.40 75.31 L621.60 75.43 L621.80 75.45 L622.00 75.36 L622.20 75.37 L622.40 75.38 L622.60 75.33 L622.80 75.33 L623.00 75.40 L623.20 75.41 L623.40 75.41 L623.60 75.37 L623.80 75.38 L624.00 75.41 L624.20 75.41 L624.40 75.42 L624.60 75.57 L624.80 75.57 L625.00 75.49 L625.20 75.49 L625.40 75.49 L625.60 75.62 L625.80 75.62 L626.00 75.59 L626.20 75.59 L626.40 75.59 L626.60 75.43 L626.80 75.43 L627.00 75.66 L627.20 75.66 L627.40 75.67 L627.60 75.66 L627.80 75.66 L628.00 75.45 L628.20 75.46 L628.40 75.46 L628.60 75.66 L628.80 75.66 L629.00 75.55 L629.20 75.55 L629.40 75.55 L629.60 75.57 L629.80 75.57 L630.00 75.69 L630.20 75.69 L630.40 75.70 L630.60 75.52 L630.80 75.53 L631.00 75.59 L631.20 75.60 L631.40 75.60 L631.60 75.70 L631.80 75.70 L631.80 75.70" fill="none" stroke="#000" stroke-width="1.45" stroke-linejoin="round"/>
<text stroke="#000" stroke-width="0.12" x="521.73" y="24.40" font-size="14.29" font-weight="bold" fill="#000" textLength="43.18" lengthAdjust="spacingAndGlyphs">CPVT2</text>
<path d="M416.50 83.50 L421.00 76.00 L425.50 83.50 Z" fill="#e0141b"/>
<path d="M424.75 83.50 L429.25 76.00 L433.75 83.50 Z" fill="#e0141b"/>
<path d="M433.00 83.50 L437.50 76.00 L442.00 83.50 Z" fill="#e0141b"/>
<path d="M476.70 83.50 L481.20 76.00 L485.70 83.50 Z" fill="#e0141b"/>
<path d="M546.80 84.90 L551.30 77.30 L555.80 84.90 Z" fill="#e0141b"/>
<defs>
<radialGradient id="gblob" cx="0.5" cy="0.5" r="0.5"><stop offset="0" stop-color="#40f040"/><stop offset="0.6" stop-color="#30d030" stop-opacity="0.8"/><stop offset="1" stop-color="#20a020" stop-opacity="0"/></radialGradient>
<clipPath id="cg1"><rect x="341.5" y="97.2" width="47" height="60.2"/></clipPath>
<clipPath id="cg2"><rect x="400" y="97.2" width="46.4" height="60.2"/></clipPath>
<clipPath id="cg3"><rect x="458.2" y="97.2" width="46.6" height="60.2"/></clipPath>
<clipPath id="cg4"><rect x="517" y="97.2" width="47" height="60.2"/></clipPath>
<clipPath id="cg5"><rect x="575.5" y="97.2" width="46.2" height="60.2"/></clipPath>
<clipPath id="ch1"><rect x="339.3" y="289" width="46.8" height="60.7"/></clipPath>
<clipPath id="ch2"><rect x="398.3" y="289" width="46.5" height="60.7"/></clipPath>
<clipPath id="ch3"><rect x="456.8" y="289" width="46.7" height="60.7"/></clipPath>
<clipPath id="ch4"><rect x="515.1" y="289" width="47" height="60.7"/></clipPath>
<clipPath id="ch5"><rect x="573.5" y="289" width="46.7" height="60.7"/></clipPath>
</defs>
<defs><linearGradient id="gband" x1="0" y1="0" x2="0" y2="1"><stop offset="0" stop-color="#006a00"/><stop offset="1" stop-color="#008e00"/></linearGradient></defs>
<defs><filter id="blurS" x="-50%" y="-50%" width="200%" height="200%"><feGaussianBlur stdDeviation="1.9"/></filter></defs>
<defs><filter id="blurB" x="-20%" y="-20%" width="140%" height="140%"><feGaussianBlur stdDeviation="3"/></filter></defs>
<g clip-path="url(#cg1)">
<rect x="341.30" y="97.20" width="47.10" height="60.30" fill="#012c01"/>
<path d="M336.3 109.3 L362.5 162.5 L336.3 162.5 Z" fill="#043c04" filter="url(#blur2)"/>
<path d="M330.9 91.2 L361.1 91.2 L397.8 166.5 L367.7 169.6 Z" fill="#02f402" filter="url(#blurB)"/>
</g>
<g clip-path="url(#cg2)">
<rect x="400.00" y="97.20" width="46.20" height="60.30" fill="#012e01"/>
<path d="M395.0 109.3 L420.8 162.5 L395.0 162.5 Z" fill="#033f03" filter="url(#blur2)"/>
<path d="M396.8 91.2 L421.3 91.2 L460.1 169.6 L424.0 169.6 Z" fill="url(#gband)" filter="url(#blurB)"/>
</g>
<g clip-path="url(#cg3)">
<rect x="458.20" y="97.20" width="46.70" height="60.30" fill="#012e01"/>
<path d="M453.2 109.3 L479.2 162.5 L453.2 162.5 Z" fill="#033f03" filter="url(#blur2)"/>
<path d="M454.9 91.2 L479.7 91.2 L518.9 169.6 L482.5 169.6 Z" fill="#037e03" filter="url(#blurB)"/>
<ellipse cx="482.5" cy="131.3" rx="12.5" ry="7.5" fill="#06f006" transform="rotate(12 482.5 131.3)" filter="url(#blurS)"/>
</g>
<g clip-path="url(#cg4)">
<rect x="517.00" y="97.20" width="47.00" height="60.30" fill="#012e01"/>
<path d="M512.0 109.3 L538.1 162.5 L512.0 162.5 Z" fill="#033f03" filter="url(#blur2)"/>
<path d="M513.7 91.2 L538.6 91.2 L578.1 169.6 L541.4 169.6 Z" fill="#038203" filter="url(#blurB)"/>
<ellipse cx="539.4" cy="126.8" rx="11.5" ry="8.5" fill="#08f408" transform="rotate(10 539.4 126.8)" filter="url(#blurS)"/>
</g>
<g clip-path="url(#cg5)">
<rect x="575.50" y="97.20" width="46.10" height="60.30" fill="#012e01"/>
<path d="M570.5 109.3 L596.2 162.5 L570.5 162.5 Z" fill="#033f03" filter="url(#blur2)"/>
<path d="M572.3 91.2 L596.7 91.2 L635.4 169.6 L599.5 169.6 Z" fill="url(#gband)" filter="url(#blurB)"/>
</g>
<line x1="343.00" y1="165.40" x2="388.70" y2="165.40" stroke="#000" stroke-width="2.0"/>
<text stroke="#000" stroke-width="0.28" x="346.20" y="181.36" font-size="14.22" fill="#000" textLength="40.32" lengthAdjust="spacingAndGlyphs">40 µm</text>
<line x1="338.90" y1="186.60" x2="338.90" y2="249.60" stroke="#a6a6a6" stroke-width="1.7"/>
<text stroke="#000" stroke-width="0.28" x="325.33" y="190.40" font-size="10.43" fill="#000" textLength="6.30" lengthAdjust="spacingAndGlyphs">2</text>
<text stroke="#000" stroke-width="0.28" x="325.44" y="251.40" font-size="11.57" fill="#000" textLength="6.18" lengthAdjust="spacingAndGlyphs">1</text>
<text stroke="#000" stroke-width="0.28" x="315.50" y="233.32" font-size="16.53" fill="#000" transform="rotate(-90 315.50 233.32)" textLength="25.78" lengthAdjust="spacingAndGlyphs">F/F</text>
<text stroke="#000" stroke-width="0.28" x="320.70" y="206.83" font-size="11.57" fill="#000" transform="rotate(-90 320.70 206.83)" textLength="7.05" lengthAdjust="spacingAndGlyphs">0</text>
<path d="M346.60 246.39 L346.80 246.39 L347.00 246.39 L347.20 246.42 L347.40 246.42 L347.60 246.51 L347.80 246.51 L348.00 246.51 L348.20 246.40 L348.40 246.40 L348.60 246.41 L348.80 246.41 L349.00 246.41 L349.20 246.43 L349.40 246.43 L349.60 246.33 L349.80 246.33 L350.00 246.33 L350.20 246.41 L350.40 246.40 L350.60 246.42 L350.80 246.37 L351.00 246.27 L351.20 246.07 L351.40 245.58 L351.60 244.51 L351.80 242.99 L352.00 240.67 L352.20 237.52 L352.40 233.59 L352.60 229.31 L352.80 225.46 L353.00 222.75 L353.20 221.94 L353.40 225.86 L353.60 229.12 L353.80 231.89 L354.00 234.22 L354.20 236.02 L354.40 237.66 L354.60 239.27 L354.80 240.43 L355.00 241.40 L355.20 242.22 L355.40 242.91 L355.60 243.41 L355.80 243.90 L356.00 244.31 L356.20 244.64 L356.40 244.93 L356.60 245.06 L356.80 245.27 L357.00 245.44 L357.20 245.55 L357.40 245.67 L357.60 245.88 L357.80 245.94 L358.00 245.93 L358.20 245.71 L358.40 245.41 L358.60 244.81 L358.80 243.68 L359.00 241.88 L359.20 239.33 L359.40 236.09 L359.60 232.41 L359.80 228.95 L360.00 226.31 L360.20 225.17 L360.40 227.72 L360.60 230.70 L360.80 233.21 L361.00 235.32 L361.20 237.19 L361.40 238.68 L361.60 239.85 L361.80 240.90 L362.00 241.79 L362.20 242.56 L362.40 243.18 L362.60 243.67 L362.80 244.12 L363.00 244.49 L363.20 244.84 L363.40 245.10 L363.60 245.27 L363.80 245.45 L364.00 245.61 L364.20 245.70 L364.40 245.81 L364.60 246.06 L364.80 246.11 L365.00 246.12 L365.20 246.03 L365.40 245.78 L365.60 245.19 L365.80 244.18 L366.00 242.54 L366.20 240.10 L366.40 236.96 L366.60 233.24 L366.80 229.63 L367.00 226.68 L367.20 225.00 L367.40 226.58 L367.60 229.76 L367.80 232.41 L368.00 234.65 L368.20 236.47 L368.40 238.05 L368.60 239.54 L368.80 240.65 L369.00 241.59 L369.20 242.29 L369.40 242.95 L369.60 243.61 L369.80 244.08 L370.00 244.47 L370.20 244.69 L370.40 244.97 L370.60 245.34 L370.80 245.53 L371.00 245.70 L371.20 245.81 L371.40 245.92 L371.60 245.80 L371.80 245.84 L372.00 245.82 L372.20 245.72 L372.40 245.34 L372.60 244.76 L372.80 243.46 L373.00 241.45 L373.20 238.55 L373.40 235.13 L373.60 231.56 L373.80 228.19 L374.00 225.82 L374.20 224.83 L374.40 228.28 L374.60 231.10 L374.80 233.54 L375.00 235.58 L375.20 237.44 L375.40 238.88 L375.60 240.13 L375.80 241.16 L376.00 242.01 L376.20 242.61 L376.40 243.22 L376.60 243.68 L376.80 244.11 L377.00 244.47 L377.20 244.83 L377.40 245.09 L377.60 245.45 L377.80 245.63 L378.00 245.79 L378.20 245.86 L378.40 245.97 L378.60 245.89 L378.80 245.93 L379.00 245.92 L379.20 245.83 L379.40 245.52 L379.60 244.84 L379.80 243.69 L380.00 241.86 L380.20 239.25 L380.40 235.96 L380.60 232.46 L380.80 228.95 L381.00 226.27 L381.20 224.85 L381.40 227.44 L381.60 230.56 L381.80 233.10 L382.00 235.24 L382.20 237.01 L382.40 238.52 L382.60 239.73 L382.80 240.79 L383.00 241.69 L383.20 242.57 L383.40 243.20 L383.60 243.59 L383.80 244.04 L384.00 244.41 L384.20 244.85 L384.40 245.12 L384.60 245.22 L384.80 245.40 L385.00 245.56 L385.20 245.77 L385.40 245.88 L385.60 245.92 L385.80 245.98 L386.00 246.02 L386.20 246.01 L386.40 245.89 L386.60 245.74 L386.80 245.09 L387.00 243.93 L387.20 242.06 L387.40 239.46 L387.60 236.04 L387.80 232.37 L388.00 228.85 L388.20 226.31 L388.40 225.04 L388.60 227.47 L388.80 230.49 L389.00 233.04 L389.20 235.22 L389.40 237.01 L389.60 238.63 L389.80 239.90 L390.00 240.97 L390.20 241.81 L390.40 242.57 L390.60 243.07 L390.80 243.60 L391.00 244.05 L391.20 244.64 L391.40 244.95 L391.60 245.03 L391.80 245.25 L392.00 245.44 L392.20 245.61 L392.40 245.74 L392.60 245.98 L392.80 246.06 L393.00 246.11 L393.20 246.01 L393.40 245.92 L393.60 245.65 L393.80 245.08 L394.00 244.03 L394.20 242.28 L394.40 239.79 L394.60 236.54 L394.80 232.79 L395.00 229.05 L395.20 226.12 L395.40 224.40 L395.60 225.96 L395.80 229.23 L396.00 231.98 L396.20 234.37 L396.40 236.31 L396.60 237.89 L396.80 239.26 L397.00 240.41 L397.20 241.40 L397.40 242.21 L397.60 243.02 L397.80 243.59 L398.00 244.08 L398.20 244.37 L398.40 244.71 L398.60 245.02 L398.80 245.26 L399.00 245.46 L399.20 245.70 L399.40 245.85 L399.60 245.80 L399.80 245.91 L400.00 245.98 L400.20 246.02 L400.40 246.02 L400.60 246.10 L400.80 245.84 L401.00 245.28 L401.20 244.23 L401.40 242.56 L401.60 239.97 L401.80 236.78 L402.00 233.10 L402.20 229.41 L402.40 226.41 L402.60 224.85 L402.80 226.46 L403.00 229.67 L403.20 232.42 L403.40 234.69 L403.60 236.42 L403.80 238.02 L404.00 239.36 L404.20 240.68 L404.40 241.63 L404.60 242.41 L404.80 243.08 L405.00 243.65 L405.20 244.05 L405.40 244.45 L405.60 244.74 L405.80 245.03 L406.00 245.26 L406.20 245.39 L406.40 245.55 L406.60 245.68 L406.80 245.80 L407.00 245.89 L407.20 246.17 L407.40 246.19 L407.60 245.96 L407.80 245.75 L408.00 245.27 L408.20 244.47 L408.40 242.95 L408.60 240.56 L408.80 237.49 L409.00 233.82 L409.20 230.16 L409.40 226.87 L409.60 224.71 L409.80 225.16 L410.00 228.58 L410.20 231.37 L410.40 233.79 L410.60 235.79 L410.80 237.49 L411.00 238.92 L411.20 240.26 L411.40 241.27 L411.60 241.96 L411.80 242.68 L412.00 243.28 L412.20 243.82 L412.40 244.24 L412.60 244.68 L412.80 244.98 L413.00 245.23 L413.20 245.51 L413.40 245.69 L413.60 245.78 L413.80 245.91 L414.00 246.02 L414.20 246.01 L414.40 246.07 L414.60 246.23 L414.80 246.17 L415.00 245.95 L415.20 245.29 L415.40 244.36 L415.60 242.77 L415.80 240.45 L416.00 237.34 L416.20 233.68 L416.40 229.83 L416.60 226.53 L416.80 224.40 L417.00 224.86 L417.20 228.23 L417.40 231.13 L417.60 233.61 L417.80 235.66 L418.00 237.39 L418.20 238.88 L418.40 240.10 L418.60 241.18 L418.80 242.04 L419.00 242.76 L419.20 243.26 L419.40 243.78 L419.60 244.26 L419.80 244.62 L420.00 244.93 L420.20 245.31 L420.40 245.52 L420.60 245.72 L420.80 245.88 L421.00 246.00 L421.20 246.03 L421.40 246.12 L421.60 246.21 L421.80 246.27 L422.00 246.32 L422.20 246.34 L422.40 246.38 L422.60 246.31 L422.80 246.33 L423.00 246.36 L423.20 246.35 L423.40 246.37 L423.60 246.38 L423.80 246.39 L424.00 246.40 L424.20 246.62 L424.40 246.63 L424.60 246.58 L424.80 246.59 L425.00 246.59 L425.20 246.66 L425.40 246.66 L425.60 246.44 L425.80 246.44 L426.00 246.44 L426.20 246.59 L426.40 246.60 L426.60 246.56 L426.80 246.56 L427.00 246.56 L427.20 246.62 L427.40 246.62 L427.60 246.53 L427.80 246.53 L428.00 246.53 L428.20 246.69 L428.40 246.69 L428.60 246.47 L428.80 246.47 L429.00 246.47 L429.20 246.59 L429.40 246.59 L429.60 246.63 L429.80 246.63 L430.00 246.63 L430.20 246.67 L430.40 246.67 L430.60 246.63 L430.80 246.63 L431.00 246.64 L431.20 246.63 L431.40 246.63 L431.60 246.65 L431.80 246.65 L432.00 246.65 L432.20 246.68 L432.40 246.68 L432.60 246.55 L432.80 246.55 L433.00 246.55 L433.20 246.63 L433.40 246.63 L433.60 246.68 L433.80 246.68 L434.00 246.68 L434.20 246.67 L434.40 246.67 L434.60 246.57 L434.80 246.57 L435.00 246.57 L435.20 246.66 L435.40 246.66 L435.60 246.68 L435.80 246.68 L436.00 246.68 L436.20 246.61 L436.40 246.61 L436.60 246.62 L436.80 246.62 L437.00 246.62 L437.20 246.56 L437.40 246.56 L437.60 246.61 L437.80 246.61 L438.00 246.61 L438.20 246.62 L438.40 246.62 L438.60 246.49 L438.80 246.49 L439.00 246.49 L439.20 246.63 L439.40 246.63 L439.60 246.71 L439.80 246.72 L440.00 246.72 L440.20 246.69 L440.40 246.69 L440.60 246.65 L440.80 246.65 L441.00 246.65 L441.20 246.57 L441.40 246.57 L441.60 246.66 L441.80 246.66 L442.00 246.66 L442.20 246.62 L442.40 246.62 L442.60 246.59 L442.80 246.59 L443.00 246.59 L443.20 246.69 L443.40 246.69 L443.60 246.50 L443.80 246.51 L444.00 246.51 L444.20 246.67 L444.40 246.67 L444.60 246.49 L444.80 246.49 L445.00 246.49 L445.20 246.63 L445.40 246.63 L445.60 246.60 L445.80 246.60 L446.00 246.61 L446.20 246.55 L446.40 246.55 L446.60 246.66 L446.80 246.66 L447.00 246.66 L447.20 246.61 L447.40 246.61 L447.60 246.64 L447.80 246.64 L448.00 246.64 L448.20 246.72 L448.40 246.72 L448.60 246.56 L448.80 246.56 L449.00 246.56 L449.20 246.50 L449.40 246.50 L449.60 246.57 L449.80 246.57 L450.00 246.57 L450.20 246.66 L450.40 246.66 L450.60 246.55 L450.80 246.55 L451.00 246.55 L451.20 246.54 L451.40 246.54 L451.60 246.72 L451.80 246.72 L452.00 246.72 L452.20 246.66 L452.40 246.66 L452.60 246.61 L452.80 246.61 L453.00 246.61 L453.20 246.72 L453.40 246.72 L453.60 246.58 L453.80 246.58 L454.00 246.59 L454.20 246.67 L454.40 246.67 L454.60 246.56 L454.80 246.56 L455.00 246.56 L455.20 246.61 L455.40 246.61 L455.60 246.70 L455.80 246.70 L456.00 246.70 L456.20 246.73 L456.40 246.73 L456.60 246.72 L456.80 246.72 L457.00 246.72 L457.20 246.61 L457.40 246.61 L457.60 246.65 L457.80 246.65 L458.00 246.65 L458.20 246.59 L458.40 246.59 L458.60 246.55 L458.80 246.55 L459.00 246.55 L459.20 246.64 L459.40 246.64 L459.60 246.72 L459.80 246.72 L460.00 246.72 L460.20 246.72 L460.40 246.72 L460.60 246.69 L460.80 246.69 L461.00 246.69 L461.20 246.75 L461.40 246.75 L461.60 246.59 L461.80 246.59 L462.00 246.59 L462.20 246.56 L462.40 246.56 L462.60 246.63 L462.80 246.63 L463.00 246.63 L463.20 246.59 L463.40 246.59 L463.60 246.58 L463.80 246.58 L464.00 246.58 L464.20 246.63 L464.40 246.63 L464.60 246.68 L464.80 246.68 L465.00 246.68 L465.20 246.65 L465.40 246.65 L465.60 246.61 L465.80 246.61 L466.00 246.61 L466.20 246.73 L466.40 246.73 L466.60 246.77 L466.80 246.77 L467.00 246.77 L467.20 246.64 L467.40 246.64 L467.60 246.55 L467.80 246.55 L468.00 246.55 L468.20 246.54 L468.40 246.54 L468.60 246.75 L468.80 246.75 L469.00 246.75 L469.20 246.55 L469.40 246.55 L469.60 246.71 L469.80 246.71 L470.00 246.71 L470.20 246.68 L470.40 246.68 L470.60 246.62 L470.80 246.62 L471.00 246.62 L471.20 246.73 L471.40 246.73 L471.60 246.55 L471.80 246.55 L472.00 246.55 L472.20 246.58 L472.40 246.58 L472.60 246.65 L472.80 246.66 L473.00 246.66 L473.20 246.55 L473.40 246.55 L473.60 246.75 L473.80 246.75 L474.00 246.75 L474.20 246.61 L474.40 246.61 L474.60 246.58 L474.80 246.58 L475.00 246.58 L475.20 246.56 L475.40 246.56 L475.60 246.70 L475.80 246.70 L476.00 246.70 L476.20 246.66 L476.40 246.66 L476.60 246.71 L476.80 246.71 L477.00 246.71 L477.20 246.71 L477.40 246.71 L477.60 246.75 L477.80 246.75 L478.00 246.75 L478.20 246.79 L478.40 246.79 L478.60 246.72 L478.80 246.72 L479.00 246.72 L479.20 246.61 L479.40 246.61 L479.60 246.67 L479.80 246.67 L480.00 246.68 L480.20 246.60 L480.40 246.60 L480.60 246.56 L480.80 246.57 L481.00 246.57 L481.20 246.68 L481.40 246.68 L481.60 246.74 L481.80 246.74 L482.00 246.74 L482.20 246.61 L482.40 246.61 L482.60 246.63 L482.80 246.63 L483.00 246.63 L483.20 246.65 L483.40 246.65 L483.60 246.74 L483.80 246.74 L484.00 246.74 L484.20 246.69 L484.40 246.70 L484.60 246.72 L484.80 246.72 L485.00 246.72 L485.20 246.75 L485.40 246.75 L485.60 246.67 L485.80 246.67 L486.00 246.67 L486.20 246.76 L486.40 246.76 L486.60 246.79 L486.80 246.79 L487.00 246.79 L487.20 246.60 L487.40 246.60 L487.60 246.80 L487.80 246.80 L488.00 246.80 L488.20 246.75 L488.40 246.75 L488.60 246.61 L488.80 246.61 L489.00 246.61 L489.20 246.69 L489.40 246.69 L489.60 246.73 L489.80 246.73 L490.00 246.73 L490.20 246.80 L490.40 246.80 L490.60 246.67 L490.80 246.67 L491.00 246.67 L491.20 246.72 L491.40 246.72 L491.60 246.80 L491.80 246.80 L492.00 246.80 L492.20 246.78 L492.40 246.78 L492.60 246.81 L492.80 246.81 L493.00 246.82 L493.20 246.70 L493.40 246.70 L493.60 246.75 L493.80 246.75 L494.00 246.75 L494.20 246.64 L494.40 246.64 L494.60 246.77 L494.80 246.77 L495.00 246.77 L495.20 246.79 L495.40 246.79 L495.60 246.75 L495.80 246.75 L496.00 246.75 L496.20 246.77 L496.40 246.77 L496.60 246.65 L496.80 246.65 L497.00 246.65 L497.20 246.81 L497.40 246.81 L497.60 246.83 L497.80 246.83 L498.00 246.83 L498.20 246.83 L498.40 246.83 L498.60 246.73 L498.80 246.73 L499.00 246.73 L499.20 246.79 L499.40 246.79 L499.60 246.68 L499.80 246.68 L500.00 246.68 L500.20 246.82 L500.40 246.82 L500.60 246.81 L500.80 246.81 L501.00 246.81 L501.20 246.69 L501.40 246.69 L501.60 246.63 L501.80 246.63 L502.00 246.63 L502.20 246.71 L502.40 246.71 L502.60 246.74 L502.80 246.74 L503.00 246.74 L503.20 246.79 L503.40 246.79 L503.60 246.73 L503.80 246.73 L504.00 246.73 L504.20 246.62 L504.40 246.62 L504.60 246.80 L504.80 246.78 L505.00 246.72 L505.20 246.38 L505.40 245.98 L505.60 245.31 L505.80 243.72 L506.00 241.12 L506.20 237.28 L506.40 232.83 L506.60 228.44 L506.80 225.13 L507.00 223.90 L507.20 227.26 L507.40 230.05 L507.60 232.28 L507.80 234.33 L508.00 236.09 L508.20 237.60 L508.40 238.89 L508.60 240.09 L508.80 241.04 L509.00 241.85 L509.20 242.60 L509.40 243.20 L509.60 243.74 L509.80 244.18 L510.00 244.56 L510.20 244.85 L510.40 245.12 L510.60 245.42 L510.80 245.63 L511.00 245.80 L511.20 245.84 L511.40 245.97 L511.60 246.19 L511.80 246.29 L512.00 246.37 L512.20 246.23 L512.40 246.29 L512.60 246.38 L512.80 246.42 L513.00 246.46 L513.20 246.56 L513.40 246.59 L513.60 246.56 L513.80 246.58 L514.00 246.60 L514.20 246.72 L514.40 246.73 L514.60 246.72 L514.80 246.73 L515.00 246.74 L515.20 246.72 L515.40 246.73 L515.60 246.81 L515.80 246.81 L516.00 246.82 L516.20 246.75 L516.40 246.76 L516.60 246.70 L516.80 246.70 L517.00 246.70 L517.20 246.72 L517.40 246.72 L517.60 246.84 L517.80 246.84 L518.00 246.84 L518.20 246.85 L518.40 246.85 L518.60 246.69 L518.80 246.69 L519.00 246.69 L519.20 246.85 L519.40 246.85 L519.60 246.88 L519.80 246.88 L520.00 246.88 L520.20 246.77 L520.40 246.77 L520.60 246.78 L520.80 246.78 L521.00 246.78 L521.20 246.70 L521.40 246.70 L521.60 246.78 L521.80 246.78 L522.00 246.78 L522.20 246.77 L522.40 246.77 L522.60 246.80 L522.80 246.80 L523.00 246.80 L523.20 246.66 L523.40 246.66 L523.60 246.89 L523.80 246.89 L524.00 246.89 L524.20 246.78 L524.40 246.78 L524.60 246.75 L524.80 246.75 L525.00 246.75 L525.20 246.85 L525.40 246.85 L525.60 246.79 L525.80 246.79 L526.00 246.79 L526.20 246.78 L526.40 246.78 L526.60 246.82 L526.80 246.83 L527.00 246.83 L527.20 246.68 L527.40 246.68 L527.60 246.79 L527.80 246.79 L528.00 246.79 L528.20 246.76 L528.40 246.76 L528.60 246.89 L528.80 246.89 L529.00 246.89 L529.20 246.89 L529.40 246.89 L529.60 246.73 L529.80 246.73 L530.00 246.73 L530.20 246.78 L530.40 246.78 L530.60 246.70 L530.80 246.70 L531.00 246.70 L531.20 246.77 L531.40 246.77 L531.60 246.87 L531.80 246.87 L532.00 246.87 L532.20 246.89 L532.40 246.89 L532.60 246.79 L532.80 246.79 L533.00 246.79 L533.20 246.75 L533.40 246.75 L533.60 246.72 L533.80 246.72 L534.00 246.72 L534.20 246.82 L534.40 246.82 L534.60 246.90 L534.80 246.90 L535.00 246.90 L535.20 246.71 L535.40 246.71 L535.60 246.86 L535.80 246.87 L536.00 246.87 L536.20 246.68 L536.40 246.68 L536.60 246.73 L536.80 246.73 L537.00 246.73 L537.20 246.74 L537.40 246.74 L537.60 246.85 L537.80 246.85 L538.00 246.85 L538.20 246.76 L538.40 246.76 L538.60 246.77 L538.80 246.77 L539.00 246.77 L539.20 246.83 L539.40 246.83 L539.60 246.71 L539.80 246.71 L540.00 246.71 L540.20 246.86 L540.40 246.86 L540.60 246.72 L540.80 246.72 L541.00 246.72 L541.20 246.81 L541.40 246.81 L541.60 246.75 L541.80 246.75 L542.00 246.75 L542.20 246.74 L542.40 246.74 L542.60 246.82 L542.80 246.82 L543.00 246.82 L543.20 246.80 L543.40 246.80 L543.60 246.78 L543.80 246.79 L544.00 246.79 L544.20 246.80 L544.40 246.80 L544.60 246.82 L544.80 246.82 L545.00 246.82 L545.20 246.74 L545.40 246.74 L545.60 246.75 L545.80 246.75 L546.00 246.75 L546.20 246.85 L546.40 246.85 L546.60 246.85 L546.80 246.85 L547.00 246.85 L547.20 246.83 L547.40 246.83 L547.60 246.91 L547.80 246.91 L548.00 246.91 L548.20 246.85 L548.40 246.85 L548.60 246.91 L548.80 246.91 L549.00 246.91 L549.20 246.76 L549.40 246.76 L549.60 246.88 L549.80 246.89 L550.00 246.89 L550.20 246.90 L550.40 246.90 L550.60 246.93 L550.80 246.93 L551.00 246.93 L551.20 246.79 L551.40 246.79 L551.60 246.79 L551.80 246.79 L552.00 246.79 L552.20 246.93 L552.40 246.93 L552.60 246.77 L552.80 246.77 L553.00 246.77 L553.20 246.95 L553.40 246.95 L553.60 246.93 L553.80 246.93 L554.00 246.93 L554.20 246.75 L554.40 246.75 L554.60 246.78 L554.80 246.78 L555.00 246.78 L555.20 246.89 L555.40 246.89 L555.60 246.78 L555.80 246.78 L556.00 246.78 L556.20 246.74 L556.40 246.74 L556.60 246.92 L556.80 246.92 L557.00 246.92 L557.20 246.82 L557.40 246.82 L557.60 246.91 L557.80 246.91 L558.00 246.91 L558.20 246.76 L558.40 246.76 L558.60 246.82 L558.80 246.82 L559.00 246.82 L559.20 246.89 L559.40 246.89 L559.60 246.73 L559.80 246.73 L560.00 246.73 L560.20 246.78 L560.40 246.78 L560.60 246.89 L560.80 246.89 L561.00 246.89 L561.20 246.95 L561.40 246.95 L561.60 246.96 L561.80 246.97 L562.00 246.97 L562.20 246.76 L562.40 246.76 L562.60 246.86 L562.80 246.86 L563.00 246.86 L563.20 246.92 L563.40 246.92 L563.60 246.86 L563.80 246.86 L564.00 246.86 L564.20 246.90 L564.40 246.90 L564.60 246.78 L564.80 246.78 L565.00 246.78 L565.20 246.76 L565.40 246.76 L565.60 246.77 L565.80 246.77 L566.00 246.77 L566.20 246.75 L566.40 246.75 L566.60 246.88 L566.80 246.88 L567.00 246.88 L567.20 246.87 L567.40 246.87 L567.60 246.88 L567.80 246.88 L568.00 246.88 L568.20 246.78 L568.40 246.78 L568.60 246.79 L568.80 246.79 L569.00 246.79 L569.20 246.80 L569.40 246.80 L569.60 246.95 L569.80 246.95 L570.00 246.95 L570.20 246.99 L570.40 246.99 L570.60 246.97 L570.80 246.97 L571.00 246.97 L571.20 246.78 L571.40 246.78 L571.60 246.77 L571.80 246.77 L572.00 246.77 L572.20 246.98 L572.40 246.98 L572.60 246.87 L572.80 246.87 L573.00 246.87 L573.20 246.94 L573.40 246.94 L573.60 246.84 L573.80 246.84 L574.00 246.84 L574.20 246.87 L574.40 246.87 L574.60 246.88 L574.80 246.88 L575.00 246.88 L575.20 246.86 L575.40 246.86 L575.60 246.91 L575.80 246.91 L576.00 246.91 L576.20 246.77 L576.40 246.77 L576.60 246.93 L576.80 246.93 L577.00 246.93 L577.20 246.97 L577.40 246.97 L577.60 246.81 L577.80 246.81 L578.00 246.81 L578.20 246.88 L578.40 246.88 L578.60 246.95 L578.80 246.95 L579.00 246.95 L579.20 246.87 L579.40 246.87 L579.60 246.82 L579.80 246.82 L580.00 246.82 L580.20 246.81 L580.40 246.81 L580.60 246.90 L580.80 246.90 L581.00 246.90 L581.20 246.78 L581.40 246.78 L581.60 246.99 L581.80 246.99 L582.00 246.99 L582.20 246.97 L582.40 246.97 L582.60 246.95 L582.80 246.95 L583.00 246.95 L583.20 246.98 L583.40 246.98 L583.60 246.93 L583.80 246.93 L584.00 246.93 L584.20 246.88 L584.40 246.88 L584.60 246.92 L584.80 246.92 L585.00 246.93 L585.20 246.90 L585.40 246.90 L585.60 247.02 L585.80 247.02 L586.00 247.02 L586.20 246.98 L586.40 246.98 L586.60 246.85 L586.80 246.85 L587.00 246.85 L587.20 247.00 L587.40 247.01 L587.60 246.97 L587.80 246.97 L588.00 246.97 L588.20 246.97 L588.40 246.98 L588.60 246.98 L588.80 246.98 L589.00 246.99 L589.20 246.89 L589.40 246.89 L589.60 247.01 L589.80 247.01 L590.00 247.01 L590.20 247.00 L590.40 247.00 L590.60 246.96 L590.80 246.96 L591.00 246.96 L591.20 246.98 L591.40 246.98 L591.60 246.98 L591.80 246.98 L592.00 246.98 L592.20 246.89 L592.40 246.89 L592.60 246.97 L592.80 246.97 L593.00 246.97 L593.20 246.82 L593.40 246.82 L593.60 246.88 L593.80 246.88 L594.00 246.88 L594.20 246.91 L594.40 246.91 L594.60 246.80 L594.80 246.80 L595.00 246.80 L595.20 246.89 L595.40 246.89 L595.60 246.96 L595.80 246.96 L596.00 246.96 L596.20 246.95 L596.40 246.96 L596.60 246.86 L596.80 246.86 L597.00 246.86 L597.20 247.03 L597.40 247.03 L597.60 246.97 L597.80 246.97 L598.00 246.97 L598.20 246.89 L598.40 246.89 L598.60 246.97 L598.80 246.97 L599.00 246.97 L599.20 246.95 L599.40 246.95 L599.60 246.94 L599.80 246.93 L600.00 246.92 L600.20 246.83 L600.40 246.68 L600.60 246.47 L600.80 245.71 L601.00 244.28 L601.20 241.86 L601.40 238.54 L601.60 234.55 L601.80 230.57 L602.00 227.59 L602.20 226.50 L602.40 229.42 L602.60 231.98 L602.80 234.13 L603.00 235.98 L603.20 237.33 L603.40 238.68 L603.60 239.98 L603.80 240.98 L604.00 241.84 L604.20 242.60 L604.40 243.23 L604.60 243.65 L604.80 244.11 L605.00 244.51 L605.20 244.88 L605.40 245.17 L605.60 245.34 L605.80 245.55 L606.00 245.74 L606.20 245.93 L606.40 246.06 L606.60 246.22 L606.80 246.32 L607.00 246.41 L607.20 246.41 L607.40 246.48 L607.60 246.57 L607.80 246.61 L608.00 246.65 L608.20 246.84 L608.40 246.87 L608.60 246.81 L608.80 246.84 L609.00 246.85 L609.20 246.86 L609.40 246.87 L609.60 247.00 L609.80 247.01 L610.00 247.02 L610.20 246.93 L610.40 246.93 L610.60 247.04 L610.80 247.05 L611.00 247.05 L611.20 246.97 L611.40 246.97 L611.60 247.02 L611.80 247.02 L612.00 247.02 L612.20 246.85 L612.40 246.85 L612.60 246.98 L612.80 246.98 L613.00 246.98 L613.20 247.02 L613.40 247.02 L613.60 246.85 L613.80 246.85 L614.00 246.85 L614.20 247.06 L614.40 247.06 L614.60 246.88 L614.80 246.88 L615.00 246.88 L615.20 246.96 L615.40 246.96 L615.60 246.89 L615.80 246.89 L616.00 246.89 L616.20 246.97 L616.40 246.97 L616.60 246.99 L616.80 246.99 L617.00 246.99 L617.20 246.86 L617.40 246.86 L617.60 247.08 L617.80 247.08 L618.00 247.08 L618.20 246.95 L618.40 246.95 L618.60 246.98 L618.80 246.98 L619.00 246.98 L619.20 247.00 L619.40 247.00 L619.60 246.94 L619.80 246.94 L620.00 246.94 L620.20 246.92 L620.40 246.92 L620.60 247.01 L620.80 247.01 L621.00 247.01 L621.20 246.99 L621.40 246.99 L621.60 246.93 L621.80 246.93 L622.00 246.93 L622.20 247.03 L622.40 247.03 L622.60 246.93 L622.80 246.93 L623.00 246.93 L623.20 246.86 L623.40 246.87 L623.60 246.92 L623.80 246.92 L624.00 246.92 L624.20 246.87 L624.40 246.87 L624.60 246.90 L624.80 246.90 L625.00 246.90 L625.20 247.05 L625.40 247.05 L625.60 246.96 L625.80 246.96 L626.00 246.96 L626.20 247.08 L626.40 247.08 L626.60 247.05 L626.80 247.05 L627.00 247.05 L627.20 246.88 L627.40 246.88 L627.60 247.11 L627.80 247.11 L628.00 247.11 L628.20 247.10 L628.40 247.10 L628.60 246.89 L628.80 246.89 L629.00 246.89 L629.20 247.09 L629.40 247.09 L629.60 246.98 L629.80 246.98 L630.00 246.98 L630.20 246.99 L630.40 246.99 L630.60 247.11 L630.80 247.11 L631.00 247.11 L631.20 246.94 L631.40 246.94 L631.60 247.00 L631.80 247.01 L631.80 247.01" fill="none" stroke="#000" stroke-width="1.45" stroke-linejoin="round"/>
<text stroke="#000" stroke-width="0.12" x="528.21" y="191.61" font-size="14.44" font-weight="bold" fill="#000" textLength="85.04" lengthAdjust="spacingAndGlyphs">CPVT2-CypD</text>
<text stroke="#000" stroke-width="0.12" x="614.69" y="188.10" font-size="11.73" font-weight="bold" fill="#000" textLength="11.56" lengthAdjust="spacingAndGlyphs">-/-</text>
<path d="M416.50 256.50 L421.00 248.90 L425.50 256.50 Z" fill="#e0141b"/>
<path d="M426.25 256.50 L430.75 248.90 L435.25 256.50 Z" fill="#e0141b"/>
<path d="M476.80 256.50 L481.30 248.90 L485.80 256.50 Z" fill="#e0141b"/>
<path d="M504.10 256.50 L508.60 248.90 L513.10 256.50 Z" fill="#e0141b"/>
<path d="M599.30 256.50 L603.80 248.90 L608.30 256.50 Z" fill="#e0141b"/>
<line x1="346.60" y1="254.70" x2="371.00" y2="254.70" stroke="#44546a" stroke-width="2.0"/>
<text stroke="#000" stroke-width="0.28" x="351.26" y="270.50" font-size="15.71" fill="#000" textLength="15.57" lengthAdjust="spacingAndGlyphs">1s</text>
<g clip-path="url(#ch1)">
<rect x="339.30" y="289.00" width="46.90" height="60.50" fill="#033e03"/>
<rect x="375.9" y="289.0" width="14.1" height="60.5" fill="#022802" opacity="0.6" filter="url(#blur2)"/>
<path d="M343.1 286.0 L377.8 286.0 L376.8 301.1 L374.0 319.2 L370.3 337.4 L367.4 348.3 L356.2 348.3 L351.5 334.4 L347.7 316.2 L344.0 301.1 Z" fill="#14d414" filter="url(#blurB)"/>
<ellipse cx="351.5" cy="312.7" rx="3" ry="3.5" fill="#30f030" filter="url(#blur1)"/>
</g>
<g clip-path="url(#ch2)">
<rect x="398.40" y="289.00" width="46.40" height="60.50" fill="#023602"/>
<rect x="434.6" y="289.0" width="13.9" height="60.5" fill="#022802" opacity="0.6" filter="url(#blur2)"/>
<path d="M402.1 286.0 L436.4 286.0 L435.5 301.1 L432.7 319.2 L429.0 337.4 L426.2 348.3 L415.1 348.3 L410.5 334.4 L406.8 316.2 L403.0 301.1 Z" fill="#026c02" filter="url(#blurB)"/>
</g>
<g clip-path="url(#ch3)">
<rect x="456.80" y="289.00" width="46.70" height="60.50" fill="#023602"/>
<rect x="493.2" y="289.0" width="14.0" height="60.5" fill="#022802" opacity="0.6" filter="url(#blur2)"/>
<path d="M460.5 286.0 L495.1 286.0 L494.2 301.1 L491.4 319.2 L487.6 337.4 L484.8 348.3 L473.6 348.3 L468.9 334.4 L465.2 316.2 L461.5 301.1 Z" fill="#026802" filter="url(#blurB)"/>
</g>
<g clip-path="url(#ch4)">
<rect x="515.30" y="289.00" width="46.90" height="60.50" fill="#023602"/>
<rect x="551.9" y="289.0" width="14.1" height="60.5" fill="#022802" opacity="0.6" filter="url(#blur2)"/>
<path d="M519.1 286.0 L553.8 286.0 L552.8 301.1 L550.0 319.2 L546.3 337.4 L543.4 348.3 L532.2 348.3 L527.5 334.4 L523.7 316.2 L520.0 301.1 Z" fill="#047204" filter="url(#blurB)"/>
<ellipse cx="539.3" cy="312.7" rx="15.5" ry="5.2" fill="#10ec10" filter="url(#blur1)"/>
</g>
<g clip-path="url(#ch5)">
<rect x="573.60" y="289.00" width="46.70" height="60.50" fill="#023602"/>
<rect x="610.0" y="289.0" width="14.0" height="60.5" fill="#022802" opacity="0.6" filter="url(#blur2)"/>
<path d="M577.3 286.0 L611.9 286.0 L611.0 301.1 L608.2 319.2 L604.4 337.4 L601.6 348.3 L590.4 348.3 L585.7 334.4 L582.0 316.2 L578.3 301.1 Z" fill="#047204" filter="url(#blurB)"/>
<ellipse cx="601.2" cy="312.0" rx="11" ry="5" fill="#10c810" filter="url(#blur1)"/>
</g>
<line x1="341.10" y1="359.00" x2="387.60" y2="359.00" stroke="#000" stroke-width="2.0"/>
<text stroke="#000" stroke-width="0.28" x="345.00" y="374.31" font-size="13.44" fill="#000" textLength="40.22" lengthAdjust="spacingAndGlyphs">40 µm</text>
<line x1="42.40" y1="425.00" x2="42.40" y2="498.50" stroke="#a6a6a6" stroke-width="1.7"/>
<text stroke="#000" stroke-width="0.28" x="31.76" y="427.50" font-size="10.29" fill="#000" textLength="6.06" lengthAdjust="spacingAndGlyphs">2</text>
<text stroke="#000" stroke-width="0.28" x="32.20" y="500.20" font-size="10.14" fill="#000" textLength="5.56" lengthAdjust="spacingAndGlyphs">1</text>
<text stroke="#000" stroke-width="0.28" x="23.50" y="475.72" font-size="16.40" fill="#000" transform="rotate(-90 23.50 475.72)" textLength="22.78" lengthAdjust="spacingAndGlyphs">F/F</text>
<text stroke="#000" stroke-width="0.28" x="27.10" y="451.39" font-size="10.29" fill="#000" transform="rotate(-90 27.10 451.39)" textLength="6.55" lengthAdjust="spacingAndGlyphs">0</text>
<path d="M51.00 495.60 L52.00 495.49 L53.00 495.39 L54.00 495.69 L55.00 495.34 L56.00 495.62 L57.00 495.52 L58.00 495.33 L59.00 495.60 L60.00 495.32 L61.00 495.56 L62.00 495.34 L63.00 495.35 L64.00 495.55 L65.00 495.60 L66.00 486.00 L67.60 452.00 L69.00 443.00 L70.00 446.00 L71.00 446.00 L72.00 445.60 L73.00 445.22 L74.00 445.13 L75.00 445.23 L76.00 445.00 L77.00 445.52 L78.00 445.55 L79.00 445.69 L80.00 446.00 L81.00 447.04 L82.00 447.23 L83.00 448.47 L84.00 449.00 L85.00 449.87 L86.00 450.79 L87.00 451.77 L88.00 452.89 L89.00 454.19 L90.00 455.00 L91.00 455.98 L92.00 457.38 L93.00 458.58 L94.00 459.59 L95.00 460.86 L96.00 462.00 L97.00 462.74 L98.00 463.74 L99.00 464.82 L100.00 466.11 L101.00 466.96 L102.00 468.00 L103.00 468.72 L104.00 469.72 L105.00 470.47 L106.00 471.21 L107.00 472.34 L108.00 473.00 L109.00 473.79 L110.00 474.18 L111.00 475.04 L112.00 475.68 L113.00 476.56 L114.00 477.00 L115.00 477.64 L116.00 477.87 L117.00 478.79 L118.00 478.77 L119.00 479.45 L120.00 480.00 L121.00 480.51 L122.00 480.51 L123.00 481.07 L124.00 481.16 L125.00 481.90 L126.00 482.32 L127.00 482.56 L128.00 483.11 L129.00 483.13 L130.00 483.60 L131.00 483.92 L132.00 484.06 L133.00 484.25 L134.00 484.37 L135.00 484.80 L136.00 485.07 L137.00 484.98 L138.00 485.30 L139.00 485.14 L140.00 485.60 L141.00 485.90 L142.00 486.05 L143.00 486.44 L144.00 486.51 L145.00 486.37 L146.00 486.61 L147.00 486.96 L148.00 486.75 L149.00 487.20 L150.00 487.40 L151.00 487.32 L152.00 487.41 L153.00 487.50 L154.00 488.04 L155.00 487.78 L156.00 487.97 L157.00 488.17 L158.00 488.58 L159.00 488.23 L160.00 488.60 L161.00 488.63 L162.00 488.74 L163.00 489.00 L164.00 489.02 L165.00 489.10 L166.00 488.81 L167.00 489.00" fill="none" stroke="#000" stroke-width="1.5" stroke-linejoin="round"/>
<text stroke="#000" stroke-width="0.12" x="153.38" y="444.60" font-size="13.14" font-weight="bold" fill="#000" textLength="40.22" lengthAdjust="spacingAndGlyphs">CPVT2</text>
<path d="M61.60 510.40 L65.70 502.90 L69.80 510.40 Z" fill="#000"/>
<line x1="65.70" y1="509.40" x2="65.70" y2="516.90" stroke="#000" stroke-width="2.0"/>
<text stroke="#000" stroke-width="0.28" x="71.64" y="514.60" font-size="13.73" fill="#000" textLength="20.44" lengthAdjust="spacingAndGlyphs">Caf</text>
<line x1="42.40" y1="527.00" x2="42.40" y2="601.00" stroke="#a6a6a6" stroke-width="1.7"/>
<text stroke="#000" stroke-width="0.28" x="31.00" y="530.30" font-size="10.43" fill="#000" textLength="5.56" lengthAdjust="spacingAndGlyphs">2</text>
<text stroke="#000" stroke-width="0.28" x="31.00" y="606.00" font-size="10.43" fill="#000" textLength="5.56" lengthAdjust="spacingAndGlyphs">1</text>
<text stroke="#000" stroke-width="0.28" x="22.00" y="579.94" font-size="16.67" fill="#000" transform="rotate(-90 22.00 579.94)" textLength="23.11" lengthAdjust="spacingAndGlyphs">F/F</text>
<text stroke="#000" stroke-width="0.28" x="25.30" y="555.71" font-size="9.14" fill="#000" transform="rotate(-90 25.30 555.71)" textLength="6.80" lengthAdjust="spacingAndGlyphs">0</text>
<path d="M51.00 601.40 L52.00 601.35 L53.00 601.32 L54.00 601.63 L55.00 601.67 L56.00 601.19 L57.00 601.21 L58.00 601.24 L59.00 601.24 L60.00 601.39 L61.00 601.45 L62.00 601.26 L63.00 601.10 L64.00 601.35 L65.00 601.40 L65.80 596.00 L66.80 580.00 L67.70 575.70 L68.85 576.27 L70.00 577.00 L71.00 577.54 L72.00 578.27 L73.00 578.61 L74.00 579.01 L75.00 579.50 L76.00 580.03 L77.00 580.53 L78.00 580.61 L79.00 581.58 L80.00 581.80 L81.14 582.47 L82.28 583.02 L83.42 583.48 L84.56 583.74 L85.70 584.30 L86.75 584.77 L87.80 585.13 L88.85 585.98 L89.90 586.17 L90.95 586.71 L92.00 587.50 L93.00 587.79 L94.00 588.22 L95.00 588.79 L96.00 589.08 L97.00 589.51 L98.00 590.07 L99.00 590.50 L100.00 591.20 L101.00 591.35 L102.00 591.38 L103.00 592.11 L104.00 592.19 L105.00 592.14 L106.00 592.43 L107.00 592.72 L108.00 592.96 L109.00 593.04 L110.00 593.50 L111.00 593.84 L112.00 594.06 L113.00 593.87 L114.00 594.01 L115.00 593.90 L116.00 594.04 L117.00 594.32 L118.00 594.40 L119.00 594.87 L120.00 594.80 L121.08 594.70 L122.15 594.71 L123.22 595.37 L124.30 595.22 L125.38 595.09 L126.45 595.43 L127.52 595.22 L128.60 595.60 L129.64 595.69 L130.67 596.03 L131.71 596.04 L132.75 596.01 L133.78 595.82 L134.82 595.96 L135.85 595.91 L136.89 596.34 L137.93 596.27 L138.96 596.49 L140.00 596.40 L141.00 596.36 L142.00 596.35 L143.00 596.77 L144.00 596.93 L145.00 596.91 L146.00 596.94 L147.00 597.01 L148.00 597.02 L149.00 596.78 L150.00 597.00 L151.00 597.05 L152.00 596.99 L153.00 596.84 L154.00 596.88 L155.00 597.07 L156.00 597.10 L157.00 597.40 L158.00 597.59 L159.00 597.33 L160.00 597.40 L161.00 597.71 L162.00 597.78 L163.00 597.80 L164.00 597.49 L165.00 597.45 L166.00 597.49 L167.00 597.70" fill="none" stroke="#000" stroke-width="1.5" stroke-linejoin="round"/>
<path d="M60.50 611.20 L64.40 604.00 L68.30 611.20 Z" fill="#000"/>
<line x1="64.40" y1="610.20" x2="64.40" y2="616.50" stroke="#000" stroke-width="2.0"/>
<text stroke="#000" stroke-width="0.28" x="71.56" y="614.50" font-size="12.93" fill="#000" textLength="20.02" lengthAdjust="spacingAndGlyphs">Caf</text>
<line x1="55.70" y1="620.90" x2="78.60" y2="620.90" stroke="#44546a" stroke-width="2.0"/>
<text stroke="#000" stroke-width="0.28" x="57.49" y="639.50" font-size="14.29" fill="#000" textLength="14.90" lengthAdjust="spacingAndGlyphs">1s</text>
<text stroke="#000" stroke-width="0.12" x="116.16" y="554.82" font-size="12.89" font-weight="bold" fill="#000" textLength="78.87" lengthAdjust="spacingAndGlyphs">CPVT2-CypD</text>
<text stroke="#000" stroke-width="0.12" x="195.93" y="551.40" font-size="10.40" font-weight="bold" fill="#000" textLength="10.78" lengthAdjust="spacingAndGlyphs">-/-</text>
<line x1="260.70" y1="448.40" x2="260.70" y2="553.70" stroke="#000" stroke-width="1.8"/>
<line x1="259.80" y1="552.80" x2="365.00" y2="552.80" stroke="#000" stroke-width="1.8"/>
<line x1="257.70" y1="552.80" x2="260.70" y2="552.80" stroke="#000" stroke-width="1.5"/>
<line x1="257.70" y1="532.04" x2="260.70" y2="532.04" stroke="#000" stroke-width="1.5"/>
<line x1="257.70" y1="511.28" x2="260.70" y2="511.28" stroke="#000" stroke-width="1.5"/>
<line x1="257.70" y1="490.52" x2="260.70" y2="490.52" stroke="#000" stroke-width="1.5"/>
<line x1="257.70" y1="469.76" x2="260.70" y2="469.76" stroke="#000" stroke-width="1.5"/>
<line x1="257.70" y1="449.00" x2="260.70" y2="449.00" stroke="#000" stroke-width="1.5"/>
<text stroke="#000" stroke-width="0.28" x="255.16" y="558.40" font-size="16.57" text-anchor="end" fill="#000" textLength="22.46" lengthAdjust="spacingAndGlyphs">0.0</text>
<text stroke="#000" stroke-width="0.28" x="255.16" y="537.64" font-size="16.57" text-anchor="end" fill="#000" textLength="22.46" lengthAdjust="spacingAndGlyphs">0.5</text>
<text stroke="#000" stroke-width="0.28" x="255.16" y="516.88" font-size="16.57" text-anchor="end" fill="#000" textLength="22.46" lengthAdjust="spacingAndGlyphs">1.0</text>
<text stroke="#000" stroke-width="0.28" x="255.16" y="496.12" font-size="16.57" text-anchor="end" fill="#000" textLength="22.46" lengthAdjust="spacingAndGlyphs">1.5</text>
<text stroke="#000" stroke-width="0.28" x="255.16" y="475.36" font-size="16.57" text-anchor="end" fill="#000" textLength="22.46" lengthAdjust="spacingAndGlyphs">2.0</text>
<text stroke="#000" stroke-width="0.28" x="255.16" y="454.60" font-size="16.57" text-anchor="end" fill="#000" textLength="22.46" lengthAdjust="spacingAndGlyphs">2.5</text>
<text stroke="#000" stroke-width="0.28" x="224.57" y="561.10" font-size="18.63" fill="#000" transform="rotate(-90 224.57 561.10)" textLength="129.60" lengthAdjust="spacingAndGlyphs">Amplitude (ΔF/F<tspan font-size="62%" dy="0.35em">0</tspan><tspan dy="-0.22em">)</tspan></text>
<rect x="289.40" y="461.80" width="1.80" height="1.80" fill="#000"/>
<rect x="285.20" y="468.30" width="1.80" height="1.80" fill="#000"/>
<rect x="289.40" y="469.50" width="1.80" height="1.80" fill="#000"/>
<rect x="289.40" y="473.60" width="1.80" height="1.80" fill="#000"/>
<rect x="289.40" y="484.60" width="1.80" height="1.80" fill="#000"/>
<rect x="289.40" y="495.70" width="1.80" height="1.80" fill="#000"/>
<rect x="285.20" y="500.60" width="1.80" height="1.80" fill="#000"/>
<rect x="289.40" y="499.90" width="1.80" height="1.80" fill="#000"/>
<rect x="293.60" y="500.60" width="1.80" height="1.80" fill="#000"/>
<rect x="285.20" y="502.30" width="1.80" height="1.80" fill="#000"/>
<rect x="293.60" y="502.30" width="1.80" height="1.80" fill="#000"/>
<rect x="289.40" y="504.60" width="1.80" height="1.80" fill="#000"/>
<rect x="285.20" y="506.10" width="1.80" height="1.80" fill="#000"/>
<rect x="289.40" y="507.80" width="1.80" height="1.80" fill="#000"/>
<rect x="293.60" y="507.80" width="1.80" height="1.80" fill="#000"/>
<rect x="285.20" y="512.30" width="1.80" height="1.80" fill="#000"/>
<rect x="289.40" y="511.80" width="1.80" height="1.80" fill="#000"/>
<rect x="293.60" y="512.70" width="1.80" height="1.80" fill="#000"/>
<rect x="285.20" y="516.70" width="1.80" height="1.80" fill="#000"/>
<rect x="289.40" y="516.30" width="1.80" height="1.80" fill="#000"/>
<rect x="293.60" y="516.70" width="1.80" height="1.80" fill="#000"/>
<rect x="289.40" y="520.90" width="1.80" height="1.80" fill="#000"/>
<rect x="293.60" y="524.80" width="1.80" height="1.80" fill="#000"/>
<rect x="289.40" y="526.50" width="1.80" height="1.80" fill="#000"/>
<rect x="289.40" y="530.10" width="1.80" height="1.80" fill="#000"/>
<line x1="272.00" y1="504.20" x2="308.60" y2="504.20" stroke="#000" stroke-width="2.0"/>
<line x1="281.90" y1="500.40" x2="298.70" y2="500.40" stroke="#000" stroke-width="1.6"/>
<line x1="281.90" y1="507.70" x2="298.70" y2="507.70" stroke="#000" stroke-width="1.6"/>
<line x1="290.30" y1="500.40" x2="290.30" y2="507.70" stroke="#000" stroke-width="1.6"/>
<rect x="334.25" y="491.05" width="1.70" height="1.70" fill="#e23e2a"/>
<rect x="334.25" y="498.15" width="1.70" height="1.70" fill="#e23e2a"/>
<rect x="332.18" y="503.25" width="1.70" height="1.70" fill="#e23e2a"/>
<rect x="336.32" y="503.25" width="1.70" height="1.70" fill="#e23e2a"/>
<rect x="330.10" y="507.25" width="1.70" height="1.70" fill="#e23e2a"/>
<rect x="334.25" y="508.25" width="1.70" height="1.70" fill="#e23e2a"/>
<rect x="338.40" y="506.35" width="1.70" height="1.70" fill="#e23e2a"/>
<rect x="325.95" y="513.95" width="1.70" height="1.70" fill="#e23e2a"/>
<rect x="330.10" y="512.55" width="1.70" height="1.70" fill="#e23e2a"/>
<rect x="334.25" y="513.35" width="1.70" height="1.70" fill="#e23e2a"/>
<rect x="338.40" y="513.35" width="1.70" height="1.70" fill="#e23e2a"/>
<rect x="342.55" y="511.55" width="1.70" height="1.70" fill="#e23e2a"/>
<rect x="342.55" y="513.75" width="1.70" height="1.70" fill="#e23e2a"/>
<rect x="334.25" y="517.05" width="1.70" height="1.70" fill="#e23e2a"/>
<rect x="338.40" y="516.15" width="1.70" height="1.70" fill="#e23e2a"/>
<rect x="338.40" y="518.65" width="1.70" height="1.70" fill="#e23e2a"/>
<rect x="330.10" y="519.75" width="1.70" height="1.70" fill="#e23e2a"/>
<rect x="330.10" y="521.65" width="1.70" height="1.70" fill="#e23e2a"/>
<rect x="334.25" y="521.15" width="1.70" height="1.70" fill="#e23e2a"/>
<rect x="338.40" y="521.45" width="1.70" height="1.70" fill="#e23e2a"/>
<rect x="330.10" y="525.65" width="1.70" height="1.70" fill="#e23e2a"/>
<rect x="334.25" y="525.15" width="1.70" height="1.70" fill="#e23e2a"/>
<rect x="338.40" y="525.95" width="1.70" height="1.70" fill="#e23e2a"/>
<rect x="334.25" y="523.65" width="1.70" height="1.70" fill="#e23e2a"/>
<rect x="330.10" y="529.75" width="1.70" height="1.70" fill="#e23e2a"/>
<rect x="334.25" y="529.75" width="1.70" height="1.70" fill="#e23e2a"/>
<rect x="338.40" y="527.75" width="1.70" height="1.70" fill="#e23e2a"/>
<rect x="334.25" y="533.25" width="1.70" height="1.70" fill="#e23e2a"/>
<rect x="338.40" y="531.65" width="1.70" height="1.70" fill="#e23e2a"/>
<rect x="338.40" y="535.55" width="1.70" height="1.70" fill="#e23e2a"/>
<rect x="334.25" y="537.55" width="1.70" height="1.70" fill="#e23e2a"/>
<rect x="330.10" y="538.55" width="1.70" height="1.70" fill="#e23e2a"/>
<rect x="330.10" y="541.05" width="1.70" height="1.70" fill="#e23e2a"/>
<rect x="330.10" y="544.55" width="1.70" height="1.70" fill="#e23e2a"/>
<rect x="330.10" y="547.35" width="1.70" height="1.70" fill="#e23e2a"/>
<rect x="334.25" y="542.55" width="1.70" height="1.70" fill="#e23e2a"/>
<rect x="334.25" y="545.25" width="1.70" height="1.70" fill="#e23e2a"/>
<rect x="338.40" y="540.05" width="1.70" height="1.70" fill="#e23e2a"/>
<rect x="338.40" y="542.85" width="1.70" height="1.70" fill="#e23e2a"/>
<rect x="338.40" y="546.05" width="1.70" height="1.70" fill="#e23e2a"/>
<line x1="316.40" y1="524.50" x2="353.80" y2="524.50" stroke="#e23e2a" stroke-width="2.0"/>
<line x1="327.30" y1="522.00" x2="342.90" y2="522.00" stroke="#e23e2a" stroke-width="1.6"/>
<line x1="327.30" y1="527.30" x2="342.90" y2="527.30" stroke="#e23e2a" stroke-width="1.6"/>
<line x1="335.10" y1="522.00" x2="335.10" y2="527.30" stroke="#e23e2a" stroke-width="1.6"/>
<text stroke="#000" stroke-width="0.12" x="331.05" y="474.60" font-size="20.57" font-weight="bold" fill="#000" textLength="7.26" lengthAdjust="spacingAndGlyphs">*</text>
<text stroke="#000" stroke-width="0.28" x="256.04" y="602.98" font-size="16.27" fill="#000" transform="rotate(-45 256.04 602.98)">CPVT2</text>
<text stroke="#000" stroke-width="0.28" x="260.11" y="646.73" font-size="16.91" fill="#000" transform="rotate(-45 260.11 646.73)">CPVT2-CypD<tspan font-size="62%" dy="-0.62em">-/-</tspan></text>
<line x1="417.10" y1="447.90" x2="417.10" y2="553.70" stroke="#000" stroke-width="1.8"/>
<line x1="416.20" y1="552.80" x2="521.10" y2="552.80" stroke="#000" stroke-width="1.8"/>
<line x1="414.10" y1="552.80" x2="417.10" y2="552.80" stroke="#000" stroke-width="1.5"/>
<line x1="414.10" y1="531.94" x2="417.10" y2="531.94" stroke="#000" stroke-width="1.5"/>
<line x1="414.10" y1="511.08" x2="417.10" y2="511.08" stroke="#000" stroke-width="1.5"/>
<line x1="414.10" y1="490.22" x2="417.10" y2="490.22" stroke="#000" stroke-width="1.5"/>
<line x1="414.10" y1="469.36" x2="417.10" y2="469.36" stroke="#000" stroke-width="1.5"/>
<line x1="414.10" y1="448.50" x2="417.10" y2="448.50" stroke="#000" stroke-width="1.5"/>
<text stroke="#000" stroke-width="0.28" x="412.79" y="558.60" font-size="16.57" text-anchor="end" fill="#000" textLength="23.53" lengthAdjust="spacingAndGlyphs">0.0</text>
<text stroke="#000" stroke-width="0.28" x="412.79" y="537.74" font-size="16.57" text-anchor="end" fill="#000" textLength="23.53" lengthAdjust="spacingAndGlyphs">0.1</text>
<text stroke="#000" stroke-width="0.28" x="412.79" y="516.88" font-size="16.57" text-anchor="end" fill="#000" textLength="23.53" lengthAdjust="spacingAndGlyphs">0.2</text>
<text stroke="#000" stroke-width="0.28" x="412.79" y="496.02" font-size="16.57" text-anchor="end" fill="#000" textLength="23.53" lengthAdjust="spacingAndGlyphs">0.3</text>
<text stroke="#000" stroke-width="0.28" x="412.79" y="475.16" font-size="16.57" text-anchor="end" fill="#000" textLength="23.53" lengthAdjust="spacingAndGlyphs">0.4</text>
<text stroke="#000" stroke-width="0.28" x="412.79" y="454.30" font-size="16.57" text-anchor="end" fill="#000" textLength="23.53" lengthAdjust="spacingAndGlyphs">0.5</text>
<text stroke="#000" stroke-width="0.28" x="379.93" y="536.10" font-size="16.86" fill="#000" transform="rotate(-90 379.93 536.10)" textLength="80.81" lengthAdjust="spacingAndGlyphs">f wave (s<tspan font-size="62%" dy="-0.62em">-1</tspan><tspan dy="0.385em">)</tspan></text>
<path d="M445.45 457.13 L446.90 454.45 L448.35 457.13 Z" fill="#000"/>
<path d="M445.45 471.13 L446.90 468.45 L448.35 471.13 Z" fill="#000"/>
<path d="M445.45 485.13 L446.90 482.45 L448.35 485.13 Z" fill="#000"/>
<path d="M431.65 498.63 L433.10 495.95 L434.55 498.63 Z" fill="#000"/>
<path d="M438.65 498.63 L440.10 495.95 L441.55 498.63 Z" fill="#000"/>
<path d="M445.45 498.63 L446.90 495.95 L448.35 498.63 Z" fill="#000"/>
<path d="M452.05 498.63 L453.50 495.95 L454.95 498.63 Z" fill="#000"/>
<path d="M458.55 498.63 L460.00 495.95 L461.45 498.63 Z" fill="#000"/>
<path d="M435.95 512.83 L437.40 510.15 L438.85 512.83 Z" fill="#000"/>
<path d="M442.05 512.83 L443.50 510.15 L444.95 512.83 Z" fill="#000"/>
<path d="M448.55 512.83 L450.00 510.15 L451.45 512.83 Z" fill="#000"/>
<path d="M454.75 512.83 L456.20 510.15 L457.65 512.83 Z" fill="#000"/>
<path d="M432.00 527.00 L433.30 524.60 L434.60 527.00 Z" fill="#000"/>
<path d="M433.71 527.00 L435.01 524.60 L436.31 527.00 Z" fill="#000"/>
<path d="M435.42 527.00 L436.72 524.60 L438.02 527.00 Z" fill="#000"/>
<path d="M437.13 527.00 L438.43 524.60 L439.73 527.00 Z" fill="#000"/>
<path d="M438.84 527.00 L440.14 524.60 L441.44 527.00 Z" fill="#000"/>
<path d="M440.55 527.00 L441.85 524.60 L443.15 527.00 Z" fill="#000"/>
<path d="M442.26 527.00 L443.56 524.60 L444.86 527.00 Z" fill="#000"/>
<path d="M443.97 527.00 L445.27 524.60 L446.57 527.00 Z" fill="#000"/>
<path d="M445.68 527.00 L446.98 524.60 L448.28 527.00 Z" fill="#000"/>
<path d="M447.39 527.00 L448.69 524.60 L449.99 527.00 Z" fill="#000"/>
<path d="M449.10 527.00 L450.40 524.60 L451.70 527.00 Z" fill="#000"/>
<path d="M450.81 527.00 L452.11 524.60 L453.41 527.00 Z" fill="#000"/>
<path d="M452.52 527.00 L453.82 524.60 L455.12 527.00 Z" fill="#000"/>
<path d="M454.23 527.00 L455.53 524.60 L456.83 527.00 Z" fill="#000"/>
<path d="M455.94 527.00 L457.24 524.60 L458.54 527.00 Z" fill="#000"/>
<path d="M457.65 527.00 L458.95 524.60 L460.25 527.00 Z" fill="#000"/>
<path d="M459.36 527.00 L460.66 524.60 L461.96 527.00 Z" fill="#000"/>
<path d="M431.70 540.49 L433.10 537.90 L434.50 540.49 Z" fill="#000"/>
<path d="M436.00 540.49 L437.40 537.90 L438.80 540.49 Z" fill="#000"/>
<path d="M439.70 540.49 L441.10 537.90 L442.50 540.49 Z" fill="#000"/>
<path d="M443.00 540.49 L444.40 537.90 L445.80 540.49 Z" fill="#000"/>
<path d="M445.70 540.49 L447.10 537.90 L448.50 540.49 Z" fill="#000"/>
<path d="M448.90 540.49 L450.30 537.90 L451.70 540.49 Z" fill="#000"/>
<path d="M451.80 540.49 L453.20 537.90 L454.60 540.49 Z" fill="#000"/>
<path d="M454.80 540.49 L456.20 537.90 L457.60 540.49 Z" fill="#000"/>
<path d="M458.60 540.49 L460.00 537.90 L461.40 540.49 Z" fill="#000"/>
<rect x="432.30" y="550.80" width="29.20" height="2.40" fill="#000"/>
<line x1="428.20" y1="534.50" x2="465.40" y2="534.50" stroke="#000" stroke-width="2.0"/>
<line x1="439.00" y1="531.60" x2="454.60" y2="531.60" stroke="#000" stroke-width="1.6"/>
<line x1="439.00" y1="536.70" x2="454.60" y2="536.70" stroke="#000" stroke-width="1.6"/>
<line x1="446.90" y1="531.60" x2="446.90" y2="536.70" stroke="#000" stroke-width="1.6"/>
<path d="M486.85 484.83 L488.30 482.15 L489.75 484.83 Z" fill="#e23e2a"/>
<path d="M493.05 484.83 L494.50 482.15 L495.95 484.83 Z" fill="#e23e2a"/>
<path d="M483.55 498.83 L485.00 496.15 L486.45 498.83 Z" fill="#e23e2a"/>
<path d="M489.75 498.83 L491.20 496.15 L492.65 498.83 Z" fill="#e23e2a"/>
<path d="M496.05 498.83 L497.50 496.15 L498.95 498.83 Z" fill="#e23e2a"/>
<path d="M476.85 512.75 L478.20 510.25 L479.55 512.75 Z" fill="#e23e2a"/>
<path d="M479.59 512.75 L480.94 510.25 L482.29 512.75 Z" fill="#e23e2a"/>
<path d="M482.33 512.75 L483.68 510.25 L485.03 512.75 Z" fill="#e23e2a"/>
<path d="M485.07 512.75 L486.42 510.25 L487.77 512.75 Z" fill="#e23e2a"/>
<path d="M487.81 512.75 L489.16 510.25 L490.51 512.75 Z" fill="#e23e2a"/>
<path d="M490.55 512.75 L491.90 510.25 L493.25 512.75 Z" fill="#e23e2a"/>
<path d="M493.29 512.75 L494.64 510.25 L495.99 512.75 Z" fill="#e23e2a"/>
<path d="M496.03 512.75 L497.38 510.25 L498.73 512.75 Z" fill="#e23e2a"/>
<path d="M498.77 512.75 L500.12 510.25 L501.47 512.75 Z" fill="#e23e2a"/>
<path d="M501.51 512.75 L502.86 510.25 L504.21 512.75 Z" fill="#e23e2a"/>
<path d="M504.25 512.75 L505.60 510.25 L506.95 512.75 Z" fill="#e23e2a"/>
<path d="M476.90 526.40 L478.20 524.00 L479.50 526.40 Z" fill="#e23e2a"/>
<path d="M478.86 526.40 L480.16 524.00 L481.46 526.40 Z" fill="#e23e2a"/>
<path d="M480.82 526.40 L482.12 524.00 L483.42 526.40 Z" fill="#e23e2a"/>
<path d="M482.78 526.40 L484.08 524.00 L485.38 526.40 Z" fill="#e23e2a"/>
<path d="M484.74 526.40 L486.04 524.00 L487.34 526.40 Z" fill="#e23e2a"/>
<path d="M486.70 526.40 L488.00 524.00 L489.30 526.40 Z" fill="#e23e2a"/>
<path d="M488.66 526.40 L489.96 524.00 L491.26 526.40 Z" fill="#e23e2a"/>
<path d="M490.62 526.40 L491.92 524.00 L493.22 526.40 Z" fill="#e23e2a"/>
<path d="M492.58 526.40 L493.88 524.00 L495.18 526.40 Z" fill="#e23e2a"/>
<path d="M494.54 526.40 L495.84 524.00 L497.14 526.40 Z" fill="#e23e2a"/>
<path d="M496.50 526.40 L497.80 524.00 L499.10 526.40 Z" fill="#e23e2a"/>
<path d="M498.46 526.40 L499.76 524.00 L501.06 526.40 Z" fill="#e23e2a"/>
<path d="M500.42 526.40 L501.72 524.00 L503.02 526.40 Z" fill="#e23e2a"/>
<path d="M502.38 526.40 L503.68 524.00 L504.98 526.40 Z" fill="#e23e2a"/>
<path d="M504.34 526.40 L505.64 524.00 L506.94 526.40 Z" fill="#e23e2a"/>
<path d="M476.85 540.25 L478.20 537.75 L479.55 540.25 Z" fill="#e23e2a"/>
<path d="M479.59 540.25 L480.94 537.75 L482.29 540.25 Z" fill="#e23e2a"/>
<path d="M482.33 540.25 L483.68 537.75 L485.03 540.25 Z" fill="#e23e2a"/>
<path d="M485.07 540.25 L486.42 537.75 L487.77 540.25 Z" fill="#e23e2a"/>
<path d="M487.81 540.25 L489.16 537.75 L490.51 540.25 Z" fill="#e23e2a"/>
<path d="M490.55 540.25 L491.90 537.75 L493.25 540.25 Z" fill="#e23e2a"/>
<path d="M493.29 540.25 L494.64 537.75 L495.99 540.25 Z" fill="#e23e2a"/>
<path d="M496.03 540.25 L497.38 537.75 L498.73 540.25 Z" fill="#e23e2a"/>
<path d="M498.77 540.25 L500.12 537.75 L501.47 540.25 Z" fill="#e23e2a"/>
<path d="M501.51 540.25 L502.86 537.75 L504.21 540.25 Z" fill="#e23e2a"/>
<path d="M504.25 540.25 L505.60 537.75 L506.95 540.25 Z" fill="#e23e2a"/>
<rect x="477.40" y="550.50" width="28.40" height="3.20" fill="#e23e2a"/>
<line x1="473.30" y1="533.00" x2="509.90" y2="533.00" stroke="#e23e2a" stroke-width="2.0"/>
<line x1="483.60" y1="530.30" x2="499.20" y2="530.30" stroke="#e23e2a" stroke-width="1.6"/>
<line x1="483.60" y1="535.70" x2="499.20" y2="535.70" stroke="#e23e2a" stroke-width="1.6"/>
<line x1="491.40" y1="530.30" x2="491.40" y2="535.70" stroke="#e23e2a" stroke-width="1.6"/>
<text stroke="#000" stroke-width="0.28" x="412.44" y="602.98" font-size="16.27" fill="#000" transform="rotate(-45 412.44 602.98)">CPVT2</text>
<text stroke="#000" stroke-width="0.28" x="416.51" y="646.73" font-size="16.91" fill="#000" transform="rotate(-45 416.51 646.73)">CPVT2-CypD<tspan font-size="62%" dy="-0.62em">-/-</tspan></text>
<line x1="578.90" y1="448.60" x2="578.90" y2="554.70" stroke="#000" stroke-width="1.8"/>
<line x1="578.00" y1="553.80" x2="682.60" y2="553.80" stroke="#000" stroke-width="1.8"/>
<line x1="575.90" y1="553.80" x2="578.90" y2="553.80" stroke="#000" stroke-width="1.5"/>
<line x1="575.90" y1="518.93" x2="578.90" y2="518.93" stroke="#000" stroke-width="1.5"/>
<line x1="575.90" y1="484.07" x2="578.90" y2="484.07" stroke="#000" stroke-width="1.5"/>
<line x1="575.90" y1="449.20" x2="578.90" y2="449.20" stroke="#000" stroke-width="1.5"/>
<text stroke="#000" stroke-width="0.28" x="574.65" y="559.90" font-size="16.57" text-anchor="end" fill="#000" textLength="9.39" lengthAdjust="spacingAndGlyphs">0</text>
<text stroke="#000" stroke-width="0.28" x="574.65" y="525.03" font-size="16.57" text-anchor="end" fill="#000" textLength="9.39" lengthAdjust="spacingAndGlyphs">1</text>
<text stroke="#000" stroke-width="0.28" x="574.65" y="490.17" font-size="16.57" text-anchor="end" fill="#000" textLength="9.39" lengthAdjust="spacingAndGlyphs">2</text>
<text stroke="#000" stroke-width="0.28" x="574.65" y="455.30" font-size="16.57" text-anchor="end" fill="#000" textLength="9.39" lengthAdjust="spacingAndGlyphs">3</text>
<text stroke="#000" stroke-width="0.28" x="537.70" y="548.81" font-size="15.71" fill="#000" transform="rotate(-90 537.70 548.81)" textLength="105.07" lengthAdjust="spacingAndGlyphs">SR Ca content</text>
<text stroke="#000" stroke-width="0.28" x="558.96" y="520.42" font-size="18.21" fill="#000" transform="rotate(-90 558.96 520.42)" textLength="52.21" lengthAdjust="spacingAndGlyphs">(ΔF/F<tspan font-size="62%" dy="0.35em">0</tspan><tspan dy="-0.22em">)</tspan></text>
<rect x="607.60" y="459.00" width="1.80" height="1.80" fill="#000"/>
<rect x="607.60" y="480.20" width="1.80" height="1.80" fill="#000"/>
<rect x="607.60" y="485.70" width="1.80" height="1.80" fill="#000"/>
<rect x="607.60" y="500.60" width="1.80" height="1.80" fill="#000"/>
<rect x="611.60" y="500.00" width="1.80" height="1.80" fill="#000"/>
<rect x="607.60" y="504.10" width="1.80" height="1.80" fill="#000"/>
<rect x="607.60" y="507.60" width="1.80" height="1.80" fill="#000"/>
<rect x="607.60" y="512.60" width="1.80" height="1.80" fill="#000"/>
<rect x="611.60" y="517.60" width="1.80" height="1.80" fill="#000"/>
<rect x="607.60" y="520.10" width="1.80" height="1.80" fill="#000"/>
<rect x="607.60" y="522.10" width="1.80" height="1.80" fill="#000"/>
<rect x="607.60" y="524.60" width="1.80" height="1.80" fill="#000"/>
<rect x="603.60" y="527.00" width="1.80" height="1.80" fill="#000"/>
<rect x="607.60" y="527.40" width="1.80" height="1.80" fill="#000"/>
<rect x="611.60" y="527.40" width="1.80" height="1.80" fill="#000"/>
<rect x="607.60" y="531.20" width="1.80" height="1.80" fill="#000"/>
<line x1="590.00" y1="511.10" x2="627.00" y2="511.10" stroke="#000" stroke-width="2.0"/>
<line x1="600.40" y1="505.40" x2="616.60" y2="505.40" stroke="#000" stroke-width="1.6"/>
<line x1="600.40" y1="516.60" x2="616.60" y2="516.60" stroke="#000" stroke-width="1.6"/>
<line x1="608.50" y1="505.40" x2="608.50" y2="516.60" stroke="#000" stroke-width="1.6"/>
<rect x="652.25" y="515.55" width="1.70" height="1.70" fill="#e23e2a"/>
<rect x="652.25" y="517.65" width="1.70" height="1.70" fill="#e23e2a"/>
<rect x="652.25" y="520.15" width="1.70" height="1.70" fill="#e23e2a"/>
<rect x="652.25" y="524.05" width="1.70" height="1.70" fill="#e23e2a"/>
<rect x="652.25" y="530.65" width="1.70" height="1.70" fill="#e23e2a"/>
<rect x="656.25" y="531.65" width="1.70" height="1.70" fill="#e23e2a"/>
<rect x="648.25" y="535.15" width="1.70" height="1.70" fill="#e23e2a"/>
<rect x="652.25" y="535.15" width="1.70" height="1.70" fill="#e23e2a"/>
<rect x="656.25" y="537.15" width="1.70" height="1.70" fill="#e23e2a"/>
<rect x="652.25" y="539.65" width="1.70" height="1.70" fill="#e23e2a"/>
<rect x="648.65" y="543.45" width="1.70" height="1.70" fill="#e23e2a"/>
<rect x="652.25" y="542.45" width="1.70" height="1.70" fill="#e23e2a"/>
<rect x="655.85" y="544.65" width="1.70" height="1.70" fill="#e23e2a"/>
<rect x="650.25" y="547.65" width="1.70" height="1.70" fill="#e23e2a"/>
<rect x="654.25" y="546.45" width="1.70" height="1.70" fill="#e23e2a"/>
<line x1="634.75" y1="537.00" x2="671.45" y2="537.00" stroke="#e23e2a" stroke-width="2.0"/>
<line x1="645.25" y1="534.00" x2="660.95" y2="534.00" stroke="#e23e2a" stroke-width="1.6"/>
<line x1="645.25" y1="539.70" x2="660.95" y2="539.70" stroke="#e23e2a" stroke-width="1.6"/>
<line x1="653.10" y1="534.00" x2="653.10" y2="539.70" stroke="#e23e2a" stroke-width="1.6"/>
<text stroke="#000" stroke-width="0.12" x="648.20" y="490.60" font-size="20.57" font-weight="bold" fill="#000" textLength="7.55" lengthAdjust="spacingAndGlyphs">*</text>
<text stroke="#000" stroke-width="0.28" x="574.43" y="603.75" font-size="16.39" fill="#000" transform="rotate(-45 574.43 603.75)">CPVT2</text>
<text stroke="#000" stroke-width="0.28" x="578.51" y="647.23" font-size="16.91" fill="#000" transform="rotate(-45 578.51 647.23)">CPVT2-CypD<tspan font-size="62%" dy="-0.62em">-/-</tspan></text>
<text stroke="#000" stroke-width="0.28" x="31.48" y="730.50" font-size="14.57" fill="#000" textLength="46.36" lengthAdjust="spacingAndGlyphs">CPVT2</text>
<text stroke="#000" stroke-width="0.28" x="32.88" y="872.50" font-size="14.14" fill="#000" textLength="51.44" lengthAdjust="spacingAndGlyphs">CPVT2-</text>
<text stroke="#000" stroke-width="0.28" x="32.89" y="890.32" font-size="13.89" fill="#000" textLength="35.74" lengthAdjust="spacingAndGlyphs">CypD</text>
<text stroke="#000" stroke-width="0.28" x="69.14" y="886.10" font-size="8.53" fill="#000" textLength="8.67" lengthAdjust="spacingAndGlyphs">-/-</text>
<path d="M92.60 749.30 L90.90 745.63 L91.70 750.99 L92.60 749.83 L92.90 684.10 L93.35 767.40 L93.80 731.66 L94.40 734.48 L95.20 747.50 L95.90 752.25 L96.70 749.88 L97.20 748.08 L97.75 747.89 L99.20 750.64 L100.10 749.17 L100.40 695.80 L100.85 811.40 L101.30 727.19 L101.90 737.19 L102.70 747.52 L103.40 752.46 L104.20 748.76 L104.70 750.64 L105.25 750.50 L105.80 747.89 L106.35 747.88 L106.90 749.42 L107.45 750.62 L108.00 748.94 L108.55 748.45 L109.10 749.07 L109.65 747.89 L110.20 748.47 L110.75 749.11 L111.30 749.29 L111.85 748.50 L112.40 748.49 L112.95 748.46 L113.50 744.00 L114.30 749.88 L115.20 748.34 L115.50 683.20 L115.95 770.60 L116.40 726.53 L117.00 734.14 L117.80 746.73 L118.50 750.86 L119.30 750.29 L119.80 752.54 L119.98 745.89 L120.16 747.79 L120.34 751.29 L120.52 751.20 L120.70 753.23 L120.88 748.60 L121.06 752.27 L122.10 749.98 L123.00 748.91 L123.30 696.70 L123.75 789.40 L124.20 728.73 L124.80 732.35 L125.60 745.92 L126.30 751.82 L127.10 749.48 L127.60 747.90 L128.15 748.53 L128.70 750.19 L129.25 749.04 L129.80 748.32 L130.35 749.45 L130.90 749.91 L131.45 749.82 L132.00 748.92 L132.55 749.12 L133.10 749.33 L133.65 750.14 L134.20 749.36 L134.75 748.98 L135.30 749.27 L135.85 747.89 L136.40 746.08 L137.20 750.71 L138.10 750.27 L138.40 685.00 L138.85 765.80 L139.30 728.68 L139.90 735.04 L140.70 748.62 L141.40 751.81 L142.20 750.26 L142.70 750.11 L143.25 749.42 L143.80 750.38 L145.10 748.23 L146.00 749.33 L146.30 692.60 L146.75 806.70 L147.20 725.52 L147.80 734.02 L148.60 747.46 L149.30 751.11 L150.10 749.40 L150.60 750.67 L151.15 747.82 L152.30 750.43 L153.20 749.94 L153.50 710.20 L153.95 780.00 L154.40 726.10 L155.00 733.13 L155.80 746.06 L156.50 751.86 L157.30 749.42 L157.80 749.08 L159.20 747.52 L160.10 750.04 L160.40 699.90 L160.85 809.80 L161.30 728.88 L161.90 736.10 L162.70 747.28 L163.40 751.75 L164.20 749.01 L164.70 748.84 L165.25 749.42 L165.80 749.67 L166.35 749.64 L166.90 749.17 L167.45 747.88 L168.00 748.49 L168.55 748.33 L169.10 749.55 L169.65 750.38 L170.20 750.20 L170.75 750.19 L171.30 750.25 L171.85 748.57 L172.60 742.09 L173.40 750.65 L174.30 748.47 L174.60 685.70 L175.05 772.10 L175.50 733.75 L176.10 737.12 L176.90 746.28 L177.60 751.05 L178.40 748.52 L178.90 749.67 L179.45 748.83 L180.60 747.58 L181.50 748.62 L181.80 693.60 L182.25 813.00 L182.70 729.26 L183.30 736.28 L184.10 748.21 L184.80 752.43 L185.60 749.21 L186.10 748.77 L186.65 749.22 L187.20 747.87 L187.75 748.96 L188.30 749.06 L188.85 748.36 L189.40 748.13 L189.95 750.50 L190.50 749.33 L191.05 748.43 L191.60 749.62 L192.15 750.25 L192.70 747.86 L193.25 747.85 L193.80 748.24 L194.35 749.96 L194.60 745.50 L195.40 750.71 L196.30 749.66 L196.60 686.30 L197.05 772.10 L197.50 729.11 L198.10 735.99 L198.90 745.40 L199.60 752.69 L200.40 749.33 L200.90 748.47 L201.45 749.75 L202.00 748.98 L203.20 749.60 L204.10 748.94 L204.40 695.80 L204.85 805.10 L205.30 728.35 L205.90 736.88 L206.70 748.11 L207.40 753.20 L208.20 750.05 L208.70 748.72 L209.25 750.38 L209.80 748.73 L210.35 750.62 L210.90 750.03 L211.45 749.05 L212.00 748.56 L212.55 747.83 L213.10 750.44 L213.65 747.91 L214.20 750.26 L214.75 750.69 L215.30 749.51 L215.85 748.31 L216.40 750.40 L216.95 750.72 L217.50 749.91 L218.10 743.76 L218.90 750.06 L219.80 748.99 L220.10 678.80 L220.55 772.10 L221.00 732.09 L221.60 733.49 L222.40 747.57 L223.10 750.88 L223.90 748.51 L224.40 749.80 L224.95 748.69 L225.50 749.30 L226.80 748.60 L227.70 750.04 L228.00 692.60 L228.45 805.80 L228.90 725.98 L229.50 737.10 L230.30 748.50 L231.00 751.28 L231.80 750.27 L232.30 750.15 L232.85 748.82 L233.40 748.44 L233.95 749.82 L234.50 750.31 L235.05 750.60 L235.60 748.83 L236.15 750.45 L236.70 749.86 L237.25 749.25 L237.80 750.76 L238.35 748.50 L238.90 749.98 L239.45 748.05 L240.00 748.31 L240.55 750.53 L241.10 745.24 L241.90 750.82 L242.80 749.50 L243.10 685.10 L243.55 767.40 L244.00 726.50 L244.60 735.18 L245.40 747.94 L246.10 751.17 L246.90 750.03 L247.40 749.61 L247.95 750.66 L248.50 750.46 L249.70 747.84 L250.60 749.40 L250.90 694.50 L251.35 804.50 L251.80 732.98 L252.40 736.98 L253.20 749.01 L253.90 752.90 L254.70 749.88 L255.20 750.29 L255.75 748.82 L256.30 749.65 L256.85 750.15 L257.40 748.93 L257.95 749.51 L258.50 748.47 L259.05 748.05 L259.60 748.60 L260.15 750.47 L260.70 749.49 L261.25 750.58 L261.80 749.17 L262.35 748.63 L262.90 750.16 L263.45 750.28 L264.00 747.84 L264.30 742.95 L265.10 749.48 L266.00 748.53 L266.30 684.10 L266.75 772.10 L267.20 726.11 L267.80 736.98 L268.60 748.34 L269.30 753.26 L270.10 749.14 L270.60 748.15 L271.15 748.30 L271.70 748.52 L273.00 750.28 L273.90 748.51 L274.20 695.80 L274.65 798.90 L275.10 725.89 L275.70 735.12 L276.50 745.42 L277.20 753.03 L278.00 748.89 L278.50 748.56 L279.05 749.23 L279.60 748.10 L280.15 749.76 L280.70 747.92 L281.25 747.83 L281.80 750.75 L282.35 748.69 L282.90 749.59 L283.45 749.15 L284.00 748.74 L284.55 747.99 L285.10 750.54 L285.65 750.71 L286.20 750.71 L286.75 748.13 L287.30 748.45 L287.90 743.21 L288.70 751.26 L289.60 749.39 L289.90 676.30 L290.35 778.40 L290.80 727.84 L291.40 733.56 L292.20 748.26 L292.90 751.92 L293.70 748.91 L294.20 748.54 L294.75 748.04 L295.30 748.64 L296.60 751.23 L297.50 749.20 L297.80 691.40 L298.25 807.60 L298.70 728.16 L299.30 733.66 L300.10 745.54 L300.80 751.47 L301.60 748.91 L302.10 748.78 L302.65 748.75 L303.20 750.34 L303.75 750.48 L304.30 748.71 L304.85 748.80 L305.40 749.43 L305.95 749.54 L306.50 749.59 L307.05 748.54 L307.60 747.86 L308.15 748.53 L308.70 748.02 L309.25 749.45 L309.80 748.01 L310.35 748.03 L310.60 743.12 L311.40 749.88 L312.30 749.88 L312.60 685.00 L313.05 767.40 L313.50 729.56 L314.10 732.46 L314.90 748.68 L315.60 751.80 L316.40 749.89 L316.90 748.03 L317.45 750.65 L318.00 748.32 L318.55 750.13 L319.60 751.24 L320.50 749.94 L320.80 693.60 L321.25 802.00 L321.70 731.09 L322.30 736.61 L323.10 747.24 L323.80 753.06 L324.60 748.89 L325.10 750.48 L325.65 748.23 L326.20 750.53 L326.75 747.90 L327.30 748.75 L327.85 750.51 L328.40 750.21 L328.95 750.52 L329.50 750.32 L330.05 750.04 L330.60 749.87 L331.15 748.33 L331.70 749.10 L332.25 748.27 L332.80 749.94 L333.35 749.80 L333.90 748.56 L334.20 745.98 L335.00 751.23 L335.90 749.92 L336.20 685.70 L336.65 770.60 L337.10 729.07 L337.70 734.22 L338.50 745.89 L339.20 751.66 L340.00 749.09 L340.50 748.82 L341.05 748.57 L341.60 747.87 L342.80 749.89 L343.70 749.13 L344.00 694.50 L344.45 801.40 L344.90 728.88 L345.50 736.86 L346.30 747.88 L347.00 750.71 L347.80 748.55 L348.30 748.58 L348.85 750.29 L349.40 748.99 L349.95 749.00 L350.50 749.64 L351.05 748.50 L351.60 747.82 L352.15 749.39 L352.70 749.30 L353.25 749.75 L353.80 749.11 L354.35 749.86 L354.90 749.99 L355.45 748.52 L356.00 749.29 L356.55 749.24 L357.10 745.17 L357.90 750.12 L358.80 749.42 L359.10 685.00 L359.55 766.80 L360.00 725.92 L360.60 732.15 L361.40 748.20 L362.10 752.24 L362.90 748.40 L363.40 748.01 L363.95 749.34 L364.50 750.43 L365.80 747.94 L366.70 749.83 L367.00 692.00 L367.45 801.40 L367.90 726.13 L368.50 735.49 L369.30 746.53 L370.00 752.85 L370.80 749.04 L371.30 749.90 L371.85 750.01 L372.40 749.58 L372.95 750.37 L373.50 750.49 L374.05 750.68 L374.60 749.51 L375.15 748.33 L375.70 748.55 L376.25 748.45 L376.80 749.51 L377.35 750.07 L377.90 747.96 L378.45 749.84 L379.10 742.71 L379.90 750.00 L380.80 749.33 L381.10 681.00 L381.55 778.40 L382.00 732.45 L382.60 733.19 L383.40 749.14 L384.10 753.24 L384.90 749.92 L385.40 749.69 L385.95 748.60 L386.50 750.54 L387.80 751.14 L388.70 748.58 L389.00 686.30 L389.45 808.30 L389.90 727.07 L390.50 732.57 L391.30 746.66 L392.00 752.40 L392.80 749.19 L393.30 750.57 L393.85 750.71 L394.40 748.95 L394.95 750.21 L395.50 749.10 L396.05 748.29 L396.60 748.78 L397.15 748.18 L397.70 750.53 L398.25 750.68 L398.80 748.16 L399.35 749.60 L399.90 749.02 L400.45 748.15 L401.00 748.69 L401.55 748.54 L402.10 750.05 L402.70 746.28 L403.50 749.68 L404.40 749.18 L404.70 687.30 L405.15 767.40 L405.60 733.71 L406.20 733.75 L407.00 746.88 L407.70 752.81 L408.50 748.71 L409.00 748.65 L409.55 749.43 L410.10 748.62 L411.40 749.64 L412.30 748.80 L412.60 687.30 L413.05 806.70 L413.50 727.88 L414.10 732.85 L414.90 746.07 L415.60 753.22 L416.40 749.39 L416.90 749.27 L417.45 750.37 L418.00 750.11 L418.55 749.51 L419.10 748.95 L419.65 748.65 L420.20 748.12 L420.75 750.22 L421.30 748.15 L421.85 750.04 L422.40 749.44 L422.95 750.69 L423.50 750.08 L424.05 750.72 L424.60 748.21 L425.30 743.80 L426.10 750.45 L427.00 748.92 L427.30 685.10 L427.75 768.00 L428.20 729.47 L428.80 735.24 L429.60 747.19 L430.30 750.30 L431.10 749.18 L431.60 749.15 L432.15 748.71 L432.70 749.00 L434.00 750.43 L434.90 749.67 L435.20 687.30 L435.65 805.80 L436.10 729.57 L436.70 733.64 L437.50 747.79 L438.20 750.91 L439.00 748.31 L439.50 748.63 L440.05 749.59 L440.60 750.44 L441.15 750.29 L441.70 749.33 L442.25 750.76 L442.80 749.18 L443.35 750.30 L443.90 749.03 L444.45 750.03 L445.00 750.76 L445.55 748.72 L446.10 748.31 L446.65 749.66 L447.20 749.39 L447.75 748.88 L448.30 744.83 L448.48 748.30 L448.66 748.63 L448.90 744.27 L449.70 751.02 L450.60 749.47 L450.90 682.60 L451.35 769.00 L451.80 727.44 L452.40 732.26 L453.20 746.30 L453.90 751.78 L454.70 749.79 L455.20 749.72 L455.75 749.75 L456.30 749.69 L457.60 748.93 L458.50 749.56 L458.80 684.10 L459.25 805.80 L459.70 728.32 L460.30 732.05 L461.10 746.17 L461.80 752.84 L462.60 749.83 L463.10 750.25 L463.65 749.62 L464.20 748.85 L464.75 748.59 L465.30 749.92 L465.85 750.42 L466.40 749.43 L466.95 748.26 L467.50 750.30 L468.05 749.25 L468.60 749.20 L469.15 747.94 L469.70 749.33 L470.25 750.03 L470.80 749.07 L471.35 748.87 L471.80 743.02 L472.60 749.34 L473.50 749.31 L473.80 687.30 L474.25 765.80 L474.70 725.57 L475.30 733.40 L476.10 747.69 L476.80 752.37 L477.60 749.51 L478.10 748.43 L478.65 748.42 L479.20 750.46 L480.50 748.38 L481.40 748.45 L481.70 685.10 L482.15 808.30 L482.60 726.59 L483.20 734.32 L484.00 747.83 L484.70 751.83 L485.50 749.77 L486.00 748.31 L486.55 749.76 L487.10 749.94 L487.65 750.25 L488.20 748.61 L488.75 749.63 L489.30 748.50 L489.85 749.48 L490.40 748.32 L490.95 750.17 L491.50 750.40 L492.05 748.79 L492.60 748.47 L493.15 750.69 L493.70 749.92 L494.25 750.33 L494.80 747.89 L495.40 741.80 L496.20 750.54 L497.10 748.93 L497.40 685.70 L497.85 767.40 L498.30 730.10 L498.90 733.01 L499.70 746.16 L500.40 750.87 L501.20 749.55 L501.70 748.30 L502.25 750.72 L502.80 749.13 L504.10 750.95 L505.00 749.76 L505.30 686.30 L505.75 806.70 L506.20 728.56 L506.80 735.76 L507.60 747.19 L508.30 750.72 L509.10 748.58 L508.50 749.30" fill="none" stroke="#dc1c24" stroke-width="0.75" stroke-linejoin="round"/>
<path d="M91.90 886.80 L91.90 888.17 L92.45 888.14 L93.10 883.52 L93.90 886.97 L94.80 887.47 L95.10 824.10 L95.55 896.40 L96.00 870.89 L96.60 875.32 L97.40 885.57 L98.10 889.62 L98.90 887.01 L99.40 887.04 L99.95 885.78 L100.50 886.59 L101.05 886.48 L101.60 887.47 L102.15 888.28 L102.50 879.05 L103.30 887.89 L104.20 886.69 L104.50 827.30 L104.95 954.60 L105.40 873.88 L106.00 877.86 L106.80 886.69 L107.50 889.19 L108.30 886.44 L108.80 886.44 L109.35 887.98 L109.90 886.88 L110.45 886.98 L111.00 886.01 L111.55 885.37 L112.10 886.28 L112.65 885.71 L113.20 886.83 L113.75 888.30 L114.30 887.32 L114.85 885.85 L115.40 887.98 L115.95 887.69 L116.50 887.50 L117.05 888.02 L117.60 887.59 L118.15 887.67 L118.70 886.36 L119.10 878.90 L119.90 888.72 L120.80 886.12 L121.10 826.30 L121.55 894.90 L122.00 870.77 L122.60 875.14 L123.40 884.95 L124.10 889.39 L124.90 886.78 L125.40 888.07 L125.95 886.80 L126.50 887.79 L127.80 886.22 L128.50 887.57 L128.85 951.40 L129.20 874.05 L129.55 846.00 L129.85 835.80 L130.20 848.55 L130.80 871.50 L131.60 889.50 L132.40 886.72 L133.30 887.41 L133.48 890.58 L133.66 888.81 L133.84 886.68 L134.02 884.30 L134.20 885.22 L134.38 888.60 L134.56 883.79 L135.70 888.43 L136.40 886.34 L136.75 962.40 L137.10 874.67 L137.45 848.00 L137.75 838.30 L138.10 850.42 L138.70 872.25 L139.50 889.53 L140.30 886.42 L141.20 888.17 L141.75 887.42 L142.30 886.81 L142.85 886.85 L143.40 887.25 L143.95 887.06 L144.50 886.24 L145.05 885.92 L145.60 886.84 L146.15 888.10 L146.70 887.17 L147.25 885.53 L147.80 887.76 L148.35 887.48 L148.90 888.02 L149.45 885.87 L150.00 887.53 L150.60 883.51 L151.40 888.11 L152.30 886.35 L152.60 824.10 L153.05 896.40 L153.50 874.15 L154.10 874.50 L154.90 886.37 L155.60 889.37 L156.40 887.51 L156.90 884.50 L157.08 884.19 L157.26 890.23 L157.44 886.11 L157.62 888.75 L157.80 882.59 L157.98 885.56 L158.16 883.85 L159.20 887.49 L159.90 885.97 L160.25 948.30 L160.60 875.85 L160.95 851.76 L161.25 843.00 L161.60 853.95 L162.20 873.66 L163.00 889.66 L163.80 885.85 L164.70 887.49 L165.25 885.36 L165.80 886.07 L167.10 888.05 L167.80 886.11 L168.15 960.20 L168.50 875.07 L168.85 849.28 L169.15 839.90 L169.50 851.62 L170.10 872.73 L170.90 887.35 L171.70 887.18 L172.60 886.46 L173.15 885.43 L173.70 888.27 L174.90 885.41 L175.60 885.87 L175.95 904.30 L176.30 880.17 L176.65 865.60 L176.95 860.30 L177.30 866.92 L177.90 878.85 L178.70 887.83 L179.50 887.03 L180.40 887.53 L181.80 885.25 L182.50 886.47 L182.85 915.30 L183.20 877.97 L183.55 858.56 L183.85 851.50 L184.20 860.33 L184.80 876.21 L185.60 886.89 L186.40 886.70 L187.30 887.60 L187.85 887.52 L189.10 888.41 L189.80 887.31 L190.15 898.00 L190.50 879.77 L190.85 864.32 L191.15 858.70 L191.50 865.73 L192.10 878.37 L192.90 889.39 L193.70 887.21 L194.60 886.72 L196.00 885.70 L196.70 887.12 L197.05 926.30 L197.40 878.20 L197.75 859.28 L198.05 852.40 L198.40 861.00 L199.00 876.48 L199.80 887.75 L200.60 886.00 L201.50 886.64 L202.05 887.92 L203.20 885.31 L203.90 886.97 L204.25 948.30 L204.60 875.60 L204.95 850.96 L205.25 842.00 L205.60 853.20 L206.20 873.36 L207.00 887.98 L207.80 886.83 L208.70 885.73 L209.25 888.18 L210.40 885.84 L211.10 887.01 L211.45 968.70 L211.80 875.30 L212.15 850.00 L212.45 840.80 L212.80 852.30 L213.40 873.00 L214.20 888.06 L215.00 885.84 L215.90 886.97 L216.45 885.72 L217.00 885.47 L218.30 884.93 L219.00 886.12 L219.35 907.40 L219.70 879.77 L220.05 864.32 L220.35 858.70 L220.70 865.73 L221.30 878.37 L222.10 887.09 L222.90 887.07 L224.60 886.83 L225.30 887.77 L225.65 927.90 L226.00 878.20 L226.35 859.28 L226.65 852.40 L227.00 861.00 L227.60 876.48 L228.40 889.60 L229.20 887.79 L230.10 884.39 L230.28 886.30 L230.46 886.05 L231.01 887.07 L232.10 887.30 L232.80 887.40 L233.15 909.00 L233.50 880.80 L233.85 867.60 L234.15 862.80 L234.50 868.80 L235.10 879.60 L235.90 888.93 L236.70 886.31 L237.60 886.57 L238.70 886.90 L239.40 885.81 L239.75 909.00 L240.10 878.20 L240.45 859.28 L240.75 852.40 L241.10 861.00 L241.70 876.48 L242.50 886.91 L243.30 886.62 L244.20 885.63 L244.75 887.47 L245.30 886.02 L245.85 885.60 L246.40 885.85 L246.95 885.99 L247.50 885.95 L248.05 886.86 L248.60 886.69 L249.15 886.23 L249.70 887.23 L250.25 885.94 L250.80 888.02 L251.35 888.19 L251.90 887.49 L252.45 886.20 L252.63 886.90 L252.81 887.53 L252.99 882.76 L253.17 886.06 L253.35 887.03 L253.53 883.93 L253.71 883.14 L253.89 889.52 L254.07 885.60 L254.25 886.97 L254.43 890.59 L254.61 887.79 L254.79 884.91 L254.97 891.15 L255.20 881.94 L256.00 886.84 L256.90 887.17 L257.20 824.10 L257.65 898.00 L258.10 874.95 L258.70 876.78 L259.50 883.44 L260.20 889.82 L261.00 885.83 L261.50 886.65 L262.05 886.53 L262.60 886.76 L263.90 885.63 L264.60 886.98 L264.95 957.70 L265.30 874.82 L265.65 848.48 L265.95 838.90 L266.30 850.88 L266.90 872.43 L267.70 887.02 L268.50 886.37 L269.40 886.42 L269.95 888.11 L271.40 885.11 L272.10 887.31 L272.45 964.00 L272.80 875.45 L273.15 850.48 L273.45 841.40 L273.80 852.75 L274.40 873.18 L275.20 887.38 L276.00 886.94 L276.90 886.48 L277.45 886.69 L278.60 887.81 L279.30 886.59 L279.65 940.40 L280.00 877.17 L280.35 856.00 L280.65 848.30 L281.00 857.92 L281.60 875.25 L282.40 887.17 L283.20 886.04 L284.90 885.12 L285.60 887.50 L285.95 923.10 L286.30 879.00 L286.65 861.84 L286.95 855.60 L287.30 863.40 L287.90 877.44 L288.70 888.72 L289.50 887.72 L291.30 887.57 L292.00 885.85 L292.35 920.00 L292.70 879.38 L293.05 863.04 L293.35 857.10 L293.70 864.52 L294.30 877.89 L295.10 888.78 L295.90 887.35 L296.80 887.47 L298.20 886.79 L298.90 886.52 L299.25 932.60 L299.60 878.60 L299.95 860.56 L300.25 854.00 L300.60 862.20 L301.20 876.96 L302.00 888.17 L302.80 887.40 L303.70 886.11 L305.10 886.91 L305.80 886.76 L306.15 913.70 L306.50 879.77 L306.85 864.32 L307.15 858.70 L307.50 865.73 L308.10 878.37 L308.90 889.66 L309.70 887.41 L311.40 888.53 L312.10 887.47 L312.45 932.60 L312.80 879.00 L313.15 861.84 L313.45 855.60 L313.80 863.40 L314.40 877.44 L315.20 887.69 L316.00 886.26 L316.90 886.77 L318.00 885.84 L318.70 886.66 L319.05 920.00 L319.40 880.95 L319.75 868.08 L320.05 863.40 L320.40 869.25 L321.00 879.78 L321.80 888.84 L322.60 887.64 L323.50 887.06 L324.90 888.07 L325.60 885.99 L325.95 921.60 L326.30 879.77 L326.65 864.32 L326.95 858.70 L327.30 865.73 L327.90 878.37 L328.70 887.87 L329.50 887.80 L331.20 885.39 L331.90 886.63 L332.25 920.00 L332.60 881.35 L332.95 869.36 L333.25 865.00 L333.60 870.45 L334.20 880.26 L335.00 887.00 L335.80 885.97 L336.70 887.99 L337.25 888.27 L338.50 887.39 L339.20 886.06 L339.55 942.00 L339.90 878.20 L340.25 859.28 L340.55 852.40 L340.90 861.00 L341.50 876.48 L342.30 887.69 L343.10 886.26 L344.00 888.34 L344.18 888.43 L344.36 886.25 L345.40 886.90 L346.10 886.02 L346.45 921.60 L346.80 880.17 L347.15 865.60 L347.45 860.30 L347.80 866.92 L348.40 878.85 L349.20 888.42 L350.00 887.70 L351.70 887.82 L352.40 885.99 L352.75 926.30 L353.10 878.20 L353.45 859.28 L353.75 852.40 L354.10 861.00 L354.70 876.48 L355.50 888.35 L356.30 887.23 L357.90 885.83 L358.60 887.59 L358.95 923.10 L359.30 876.40 L359.65 853.52 L359.95 845.20 L360.30 855.60 L360.90 874.32 L361.70 888.18 L362.50 887.21 L363.40 886.51 L363.95 888.29 L365.20 887.93 L365.90 886.95 L366.25 942.00 L366.60 878.60 L366.95 860.56 L367.25 854.00 L367.60 862.20 L368.20 876.96 L369.00 887.23 L369.80 886.68 L370.70 885.39 L372.10 887.18 L372.80 887.56 L373.15 921.60 L373.50 881.35 L373.85 869.36 L374.15 865.00 L374.50 870.45 L375.10 880.26 L375.90 887.34 L376.70 886.82 L377.60 886.75 L378.15 886.51 L379.30 887.64 L380.00 887.67 L380.35 934.10 L380.70 878.20 L381.05 859.28 L381.35 852.40 L381.70 861.00 L382.30 876.48 L383.10 888.92 L383.90 886.74 L385.60 888.65 L386.30 886.46 L386.65 923.10 L387.00 879.38 L387.35 863.04 L387.65 857.10 L388.00 864.52 L388.60 877.89 L389.40 889.04 L390.20 887.12 L391.10 887.58 L392.50 888.21 L393.20 886.25 L393.55 926.30 L393.90 879.22 L394.25 862.56 L394.55 856.50 L394.90 864.08 L395.50 877.71 L396.30 888.66 L397.10 886.61 L398.00 887.30 L399.40 888.71 L400.10 887.07 L400.45 920.00 L400.80 880.57 L401.15 866.88 L401.45 861.90 L401.80 868.12 L402.40 879.33 L403.20 886.83 L404.00 886.73 L404.90 887.43 L405.45 887.95 L406.70 887.40 L407.40 887.43 L407.75 935.70 L408.10 879.00 L408.45 861.84 L408.75 855.60 L409.10 863.40 L409.70 877.44 L410.50 886.85 L411.30 887.69 L412.20 888.87 L412.38 887.76 L412.56 890.45 L413.60 888.34 L414.30 886.00 L414.65 924.70 L415.00 880.17 L415.35 865.60 L415.65 860.30 L416.00 866.92 L416.60 878.85 L417.40 889.25 L418.20 887.33 L419.10 885.90 L420.20 887.78 L420.90 886.97 L421.25 918.40 L421.60 880.57 L421.95 866.88 L422.25 861.90 L422.60 868.12 L423.20 879.33 L424.00 887.37 L424.80 887.41 L425.70 885.71 L427.10 887.25 L427.80 886.67 L428.15 913.70 L428.50 880.57 L428.85 866.88 L429.15 861.90 L429.50 868.12 L430.10 879.33 L430.90 887.56 L431.70 886.93 L432.60 886.70 L434.00 885.62 L434.70 887.73 L435.05 923.10 L435.40 881.75 L435.75 870.64 L436.05 866.60 L436.40 871.65 L437.00 880.74 L437.80 887.02 L438.60 885.81 L439.50 886.76 L440.05 887.81 L441.30 887.43 L442.00 887.31 L442.35 919.70 L442.70 879.60 L443.05 863.76 L443.35 858.00 L443.70 865.20 L444.30 878.16 L445.10 888.26 L445.90 887.15 L446.80 886.30 L447.35 886.10 L447.90 886.81 L449.10 884.91 L449.80 885.96 L450.15 911.00 L450.50 880.22 L450.85 865.76 L451.15 860.50 L451.50 867.08 L452.10 878.91 L452.90 889.06 L453.70 886.15 L455.00 887.80 L455.70 887.37 L456.05 922.00 L456.40 878.97 L456.75 861.76 L457.05 855.50 L457.40 863.33 L458.00 877.41 L458.80 888.01 L459.60 887.15 L460.50 887.66 L461.05 887.89 L461.60 885.70 L462.15 885.79 L463.50 886.33 L464.20 886.73 L464.55 912.50 L464.90 882.60 L465.25 873.36 L465.55 870.00 L465.90 874.20 L466.50 881.76 L467.30 887.68 L468.10 885.82 L469.60 887.03 L470.30 887.73 L470.65 909.00 L471.00 879.47 L471.35 863.36 L471.65 857.50 L472.00 864.83 L472.60 878.01 L473.40 887.90 L474.20 886.88 L475.10 886.45 L475.65 886.63 L476.20 887.91 L476.75 886.23 L478.00 887.40 L478.70 886.77 L479.05 926.00 L479.40 879.72 L479.75 864.16 L480.05 858.50 L480.40 865.58 L481.00 878.31 L481.80 888.42 L482.60 887.63 L483.50 885.53 L484.60 888.10 L485.30 886.41 L485.65 915.00 L486.00 883.47 L486.35 876.16 L486.65 873.50 L487.00 876.83 L487.60 882.81 L488.40 888.74 L489.20 887.39 L490.10 887.26 L490.65 886.48 L491.80 888.16 L492.50 885.99 L492.85 915.00 L493.20 881.35 L493.55 869.36 L493.85 865.00 L494.20 870.45 L494.80 880.26 L495.60 888.70 L496.40 886.58 L497.30 886.89 L497.85 887.85 L498.40 887.69 L499.60 887.32 L500.30 886.42 L500.65 943.70 L501.00 878.97 L501.35 861.76 L501.65 855.50 L502.00 863.33 L502.60 877.41 L503.40 887.50 L504.20 886.72 L505.10 886.00 L505.65 886.13 L507.10 888.63 L507.80 886.02 L508.15 912.50 L508.50 878.60 L508.85 860.56 L509.15 854.00 L509.50 862.20 L510.10 876.96 L510.90 889.26 L511.70 886.56 L512.60 886.39 L513.15 886.26 L513.70 885.53 L514.25 886.67 L514.80 885.80 L515.00 886.80" fill="none" stroke="#dc1c24" stroke-width="0.75" stroke-linejoin="round"/>
<line x1="385.90" y1="961.20" x2="481.00" y2="961.20" stroke="#000" stroke-width="2.2"/>
<text stroke="#000" stroke-width="0.28" x="430.72" y="980.30" font-size="13.71" fill="#000" textLength="14.45" lengthAdjust="spacingAndGlyphs">1s</text>
<line x1="592.60" y1="739.80" x2="592.60" y2="845.10" stroke="#000" stroke-width="1.5"/>
<line x1="591.70" y1="844.20" x2="696.20" y2="844.20" stroke="#000" stroke-width="1.5"/>
<line x1="589.00" y1="844.20" x2="592.60" y2="844.20" stroke="#000" stroke-width="1.5"/>
<line x1="589.00" y1="823.44" x2="592.60" y2="823.44" stroke="#000" stroke-width="1.5"/>
<line x1="589.00" y1="802.68" x2="592.60" y2="802.68" stroke="#000" stroke-width="1.5"/>
<line x1="589.00" y1="781.92" x2="592.60" y2="781.92" stroke="#000" stroke-width="1.5"/>
<line x1="589.00" y1="761.16" x2="592.60" y2="761.16" stroke="#000" stroke-width="1.5"/>
<line x1="589.00" y1="740.40" x2="592.60" y2="740.40" stroke="#000" stroke-width="1.5"/>
<text stroke="#000" stroke-width="0.28" x="587.00" y="849.60" font-size="16.00" text-anchor="end" fill="#000" textLength="8.74" lengthAdjust="spacingAndGlyphs">0</text>
<text stroke="#000" stroke-width="0.28" x="587.00" y="828.84" font-size="16.00" text-anchor="end" fill="#000" textLength="17.48" lengthAdjust="spacingAndGlyphs">10</text>
<text stroke="#000" stroke-width="0.28" x="587.00" y="808.08" font-size="16.00" text-anchor="end" fill="#000" textLength="17.48" lengthAdjust="spacingAndGlyphs">20</text>
<text stroke="#000" stroke-width="0.28" x="587.00" y="787.32" font-size="16.00" text-anchor="end" fill="#000" textLength="17.48" lengthAdjust="spacingAndGlyphs">30</text>
<text stroke="#000" stroke-width="0.28" x="587.00" y="766.56" font-size="16.00" text-anchor="end" fill="#000" textLength="17.48" lengthAdjust="spacingAndGlyphs">40</text>
<text stroke="#000" stroke-width="0.28" x="587.00" y="745.80" font-size="16.00" text-anchor="end" fill="#000" textLength="17.48" lengthAdjust="spacingAndGlyphs">50</text>
<text stroke="#000" stroke-width="0.28" x="562.91" y="850.20" font-size="14.95" fill="#000" transform="rotate(-90 562.91 850.20)" textLength="125.31" lengthAdjust="spacingAndGlyphs">Arrhythmia Score</text>
<circle cx="609.60" cy="834.80" r="2.05" fill="#000"/>
<circle cx="616.10" cy="838.60" r="2.05" fill="#000"/>
<circle cx="622.50" cy="836.40" r="2.05" fill="#000"/>
<circle cx="628.90" cy="836.60" r="2.05" fill="#000"/>
<circle cx="635.20" cy="836.40" r="2.05" fill="#000"/>
<circle cx="616.10" cy="844.60" r="2.05" fill="#000"/>
<circle cx="622.50" cy="842.70" r="2.05" fill="#000"/>
<circle cx="628.90" cy="844.60" r="2.05" fill="#000"/>
<line x1="607.70" y1="839.30" x2="637.00" y2="839.30" stroke="#000" stroke-width="1.2"/>
<circle cx="667.10" cy="750.50" r="2.05" fill="#d9321f"/>
<circle cx="667.10" cy="785.90" r="2.05" fill="#d9321f"/>
<circle cx="663.00" cy="798.40" r="2.05" fill="#d9321f"/>
<circle cx="671.20" cy="797.70" r="2.05" fill="#d9321f"/>
<circle cx="663.00" cy="810.30" r="2.05" fill="#d9321f"/>
<circle cx="671.20" cy="810.30" r="2.05" fill="#d9321f"/>
<circle cx="663.00" cy="832.40" r="2.05" fill="#d9321f"/>
<circle cx="671.20" cy="829.60" r="2.05" fill="#d9321f"/>
<line x1="652.10" y1="801.80" x2="681.80" y2="801.80" stroke="#cf6a64" stroke-width="1.5"/>
<line x1="659.70" y1="792.50" x2="674.70" y2="792.50" stroke="#d8605a" stroke-width="1.0"/>
<line x1="659.70" y1="811.40" x2="674.70" y2="811.40" stroke="#d8605a" stroke-width="1.0"/>
<line x1="667.10" y1="792.50" x2="667.10" y2="811.40" stroke="#d8605a" stroke-width="1.0"/>
<text stroke="#000" stroke-width="0.12" x="663.00" y="743.70" font-size="20.57" font-weight="bold" fill="#000" textLength="7.60" lengthAdjust="spacingAndGlyphs">*</text>
<text stroke="#000" stroke-width="0.28" x="588.69" y="893.61" font-size="16.43" fill="#000" transform="rotate(-45 588.69 893.61)">CPVT2</text>
<text stroke="#000" stroke-width="0.28" x="592.31" y="937.23" font-size="16.83" fill="#000" transform="rotate(-45 592.31 937.23)">CPVT2-CpyD<tspan font-size="62%" dy="-0.62em">-/-</tspan></text>
</svg></body></html>
